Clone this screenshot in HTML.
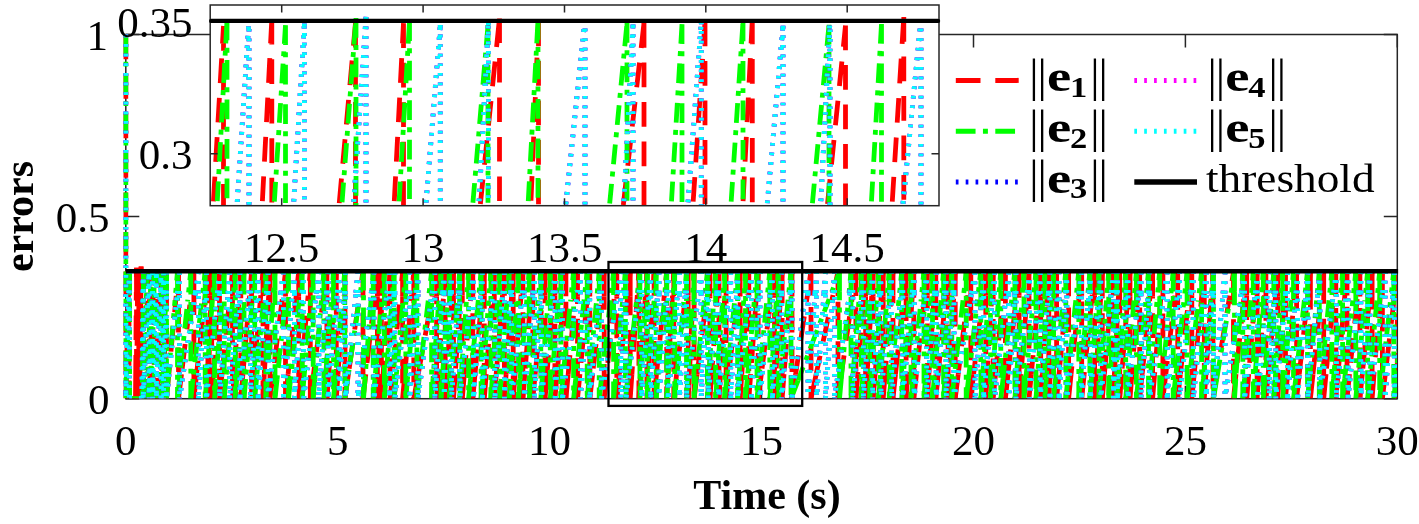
<!DOCTYPE html>
<html lang="en">
<head>
<meta charset="utf-8">
<title>errors vs. Time (s)</title>
<style>
html,body{margin:0;padding:0;background:#fff;}
body{width:1419px;height:524px;overflow:hidden;font-family:"Liberation Serif", serif;}
svg{display:block;}
</style>
</head>
<body>
<svg width="1419" height="524" viewBox="0 0 1419 524">
<defs>
<clipPath id="cm"><rect x="123.2" y="30" width="1273.8" height="368.3"/></clipPath>
<clipPath id="ci"><rect x="210.2" y="5.0" width="728.8" height="200.7"/></clipPath>
</defs>
<rect width="1419" height="524" fill="#fff"/>
<rect x="125.8" y="34.5" width="1271.5" height="364.2" stroke="#262626" stroke-width="1.5" fill="none"/>
<path d="M125.8 398.7 v-13M125.8 34.5 v13M337.7 398.7 v-13M337.7 34.5 v13M549.6 398.7 v-13M549.6 34.5 v13M761.5 398.7 v-13M761.5 34.5 v13M973.5 398.7 v-13M973.5 34.5 v13M1185.4 398.7 v-13M1185.4 34.5 v13M1397.3 398.7 v-13M1397.3 34.5 v13M125.8 398.7 h13.5M1397.3 398.7 h-13.5M125.8 216.6 h13.5M1397.3 216.6 h-13.5M125.8 34.5 h13.5M1397.3 34.5 h-13.5" stroke="#262626" stroke-width="1.5" fill="none"/>
<g clip-path="url(#cm)" fill="none" stroke-width="4.8">
<g stroke="#ff0000" stroke-dasharray="24.7 14.8"><path d="M125.8 34.5L125.8 398.7M125.8 398.7L126.4 374.0M129.0 271.2L129.0 295.9M129.0 398.7L135.5 398.7M135.5 398.7L135.7 374.0M136.5 267.8L136.5 292.5M136.5 398.7L136.6 398.7M136.6 398.7L136.8 374.0M137.7 268.6L137.7 293.3M137.7 398.7L137.8 398.7M137.8 398.7L138.0 374.0M138.8 268.7L138.8 293.4M138.8 398.7L138.9 398.7M138.9 398.7L139.1 374.0M140.0 268.4L140.0 293.1M140.0 398.7L140.1 398.7M140.1 398.7L140.3 374.0M164.7 398.7L165.0 374.0M166.5 270.7L166.5 295.4M166.5 398.7L168.8 374.1M178.5 271.9L178.5 296.6M178.5 398.7L181.5 374.2M193.9 271.3L193.9 296.0M193.9 398.7L196.6 374.1M207.9 270.7L207.9 295.4M207.9 398.7L208.6 374.0M211.7 271.1L211.7 295.8M211.7 398.7L213.2 374.0M219.5 270.8L219.5 295.5M219.5 398.7L222.0 374.1M232.5 271.8L232.5 296.5M232.5 398.7L234.1 374.1M240.8 271.3L240.8 296.0M240.8 398.7L242.9 374.1M251.6 271.6L251.6 296.3M251.6 398.7L253.8 374.1M263.0 271.2L263.0 295.9M263.0 398.7L264.3 374.0M270.0 271.2L270.0 295.9M270.0 398.7L273.0 374.2M285.5 271.9L285.5 296.6M285.5 398.7L288.1 374.1M298.7 271.6L298.7 296.3M298.7 398.7L301.0 374.1M310.3 271.6L310.3 296.3M310.3 398.7L313.5 374.2M326.9 270.8L326.9 295.5M326.9 398.7L328.7 374.1M336.3 270.9L336.3 295.6M336.3 398.7L338.0 374.1M345.0 271.7L345.0 296.4M345.0 398.7L348.4 374.2M363.0 270.9L363.0 295.6M363.0 398.7L365.8 374.2M377.4 271.7L377.4 296.4M377.4 398.7L378.2 374.0M381.4 271.1L381.4 295.8M381.4 398.7L383.1 374.1M390.0 271.8L390.0 296.5M390.0 398.7L392.5 374.1M402.6 271.9L402.6 296.6M402.6 398.7L404.8 374.1M413.8 270.8L413.8 295.5M413.8 398.7L418.2 374.4M436.6 271.7L436.6 296.4M436.6 398.7L438.3 374.1M445.2 271.6L445.2 296.3M445.2 398.7L446.8 374.1M453.5 270.7L453.5 295.4M453.5 398.7L455.2 374.1M462.3 270.8L462.3 295.5M462.3 398.7L464.3 374.1M472.8 271.6L472.8 296.3M472.8 398.7L475.0 374.1M484.3 270.7L484.3 295.4M484.3 398.7L486.2 374.1M494.3 271.2L494.3 295.9M494.3 398.7L496.2 374.1M504.4 271.1L504.4 295.8M504.4 398.7L506.1 374.1M513.2 271.7L513.2 296.4M513.2 398.7L515.1 374.1M522.9 270.7L522.9 295.4M522.9 398.7L524.8 374.1M532.8 271.0L532.8 295.7M532.8 398.7L535.2 374.1M545.1 270.7L545.1 295.4M545.1 398.7L547.0 374.1M554.9 270.8L554.9 295.5M554.9 398.7L557.1 374.1M565.9 271.5L565.9 296.2M565.9 398.7L568.2 374.1M577.5 271.5L577.5 296.2M577.5 398.7L579.9 374.1M589.8 271.7L589.8 296.4M589.8 398.7L592.6 374.2M604.2 271.7L604.2 296.4M604.2 398.7L606.7 374.1M616.8 271.8L616.8 296.5M616.8 398.7L619.4 374.1M630.2 271.5L630.2 296.2M630.2 398.7L631.9 374.1M638.9 271.2L638.9 295.9M638.9 398.7L640.5 374.0M646.9 271.9L646.9 296.6M646.9 398.7L648.3 374.0M654.1 271.1L654.1 295.8M654.1 398.7L656.5 374.1M666.7 271.5L666.7 296.2M666.7 398.7L668.0 374.0M673.8 271.5L673.8 296.2M673.8 398.7L676.6 374.2M688.2 270.9L688.2 295.6M688.2 398.7L689.4 374.0M694.1 271.3L694.1 296.0M694.1 398.7L697.1 374.2M709.9 271.5L709.9 296.2M709.9 398.7L711.7 374.1M719.0 271.3L719.0 296.0M719.0 398.7L720.4 374.0M726.1 271.0L726.1 295.7M726.1 398.7L728.8 374.1M740.1 271.8L740.1 296.5M740.1 398.7L741.8 374.1M748.8 270.7L748.8 295.4M748.8 398.7L750.7 374.1M758.2 271.9L758.2 296.6M758.2 398.7L761.3 374.2M774.5 271.0L774.5 295.7M774.5 398.7L775.9 374.0M782.1 270.8L782.1 295.5M782.1 398.7L784.0 374.1M792.0 271.9L792.0 296.6M792.0 398.7L795.6 374.3M811.0 270.9L811.0 295.6M811.0 398.7L816.1 374.5M838.0 271.5L838.0 296.2M838.0 398.7L841.4 374.2M855.9 271.2L855.9 295.9M855.9 398.7L857.8 374.1M865.6 271.9L865.6 296.6M865.6 398.7L867.1 374.0M873.1 271.9L873.1 296.6M873.1 398.7L875.1 374.1M883.2 271.7L883.2 296.4M883.2 398.7L885.1 374.1M893.0 270.7L893.0 295.4M893.0 398.7L895.5 374.1M906.1 271.7L906.1 296.4M906.1 398.7L907.6 374.0M913.8 271.0L913.8 295.7M913.8 398.7L916.4 374.1M927.3 270.7L927.3 295.4M927.3 398.7L928.9 374.1M935.8 270.7L935.8 295.4M935.8 398.7L938.2 374.1M948.1 271.5L948.1 296.2M948.1 398.7L949.5 374.0M955.2 271.5L955.2 296.2M955.2 398.7L958.2 374.2M970.8 271.3L970.8 296.0M970.8 398.7L973.6 374.2M985.8 270.9L985.8 295.6M985.8 398.7L987.2 374.0M993.2 271.8L993.2 296.5M993.2 398.7L995.5 374.1M1005.4 271.0L1005.4 295.7M1005.4 398.7L1008.0 374.1M1019.1 270.9L1019.1 295.6M1019.1 398.7L1021.0 374.1M1029.0 270.8L1029.0 295.5M1029.0 398.7L1031.3 374.1M1040.7 271.9L1040.7 296.6M1040.7 398.7L1042.2 374.0M1048.8 270.7L1048.8 295.4M1048.8 398.7L1050.3 374.0M1056.6 271.8L1056.6 296.5M1056.6 398.7L1059.0 374.1M1068.6 271.5L1068.6 296.2M1068.6 398.7L1071.1 374.1M1081.7 271.1L1081.7 295.8M1081.7 398.7L1084.2 374.1M1094.6 270.8L1094.6 295.5M1094.6 398.7L1096.1 374.0M1102.3 271.5L1102.3 296.2M1102.3 398.7L1104.4 374.1M1113.2 270.7L1113.2 295.4M1113.2 398.7L1114.4 374.0M1119.7 271.2L1119.7 295.9M1119.7 398.7L1121.7 374.1M1130.0 271.5L1130.0 296.2M1130.0 398.7L1131.9 374.1M1139.7 271.5L1139.7 296.2M1139.7 398.7L1142.2 374.1M1152.6 271.7L1152.6 296.4M1152.6 398.7L1154.6 374.1M1162.9 271.8L1162.9 296.5M1162.9 398.7L1165.8 374.2M1177.7 271.7L1177.7 296.4M1177.7 398.7L1180.4 374.1M1191.8 271.0L1191.8 295.7M1191.8 398.7L1194.2 374.1M1204.3 270.7L1204.3 295.4M1204.3 398.7L1205.9 374.1M1213.0 271.7L1213.0 296.4M1213.0 398.7L1216.9 374.3M1233.5 271.9L1233.5 296.6M1233.5 398.7L1236.0 374.1M1246.7 270.7L1246.7 295.4M1246.7 398.7L1248.7 374.1M1257.1 271.2L1257.1 295.9M1257.1 398.7L1258.8 374.1M1265.9 271.4L1265.9 296.1M1265.9 398.7L1268.2 374.1M1277.7 271.6L1277.7 296.3M1277.7 398.7L1279.2 374.0M1285.5 271.2L1285.5 295.9M1285.5 398.7L1287.6 374.1M1296.6 270.9L1296.6 295.6M1296.6 398.7L1299.3 374.1M1310.4 271.3L1310.4 296.0M1310.4 398.7L1313.0 374.1M1323.7 271.4L1323.7 296.1M1323.7 398.7L1326.0 374.1M1335.8 271.9L1335.8 296.6M1335.8 398.7L1338.0 374.1M1347.0 270.8L1347.0 295.5M1347.0 398.7L1349.5 374.1M1359.9 271.9L1359.9 296.6M1359.9 398.7L1362.3 374.1M1372.1 271.3L1372.1 296.0M1372.1 398.7L1374.0 374.1M1382.4 270.9L1382.4 295.6M1382.4 398.7L1385.3 374.2M1397.3 271.8L1397.3 296.5M1397.3 398.7L1399.8 374.1M1410.1 271.0L1410.1 295.7M1410.1 398.7L1411.5 374.0M1417.1 270.7L1417.1 295.4M1417.1 398.7L1419.1 374.1M1427.5 271.1L1427.5 295.8"/><path d="M129.0 271.2L128.4 295.3M136.5 267.8L136.3 291.9M137.7 268.6L137.5 292.7M138.8 268.7L138.6 292.8M140.0 268.4L139.8 292.5M141.1 266.4L140.9 290.5M166.5 270.7L166.2 294.8M178.5 271.9L176.2 295.9M193.9 271.3L191.0 295.3M207.9 270.7L205.3 294.7M211.7 271.1L211.0 295.2M219.5 270.8L218.1 294.8M232.5 271.8L230.0 295.8M240.8 271.3L239.2 295.4M251.6 271.6L249.6 295.6M263.0 271.2L260.8 295.2M270.0 271.2L268.7 295.3M285.5 271.9L282.6 295.8M298.7 271.6L296.2 295.6M310.3 271.6L308.1 295.6M326.9 270.8L323.8 294.7M336.3 270.9L334.6 295.0M345.0 271.7L343.4 295.8M363.0 270.9L359.6 294.8M377.4 271.7L374.7 295.7M381.4 271.1L380.7 295.2M390.0 271.8L388.4 295.8M402.6 271.9L400.2 295.9M413.8 270.8L411.7 294.8M436.6 271.7L432.4 295.4M445.2 271.6L443.6 295.7M453.5 270.7L452.0 294.7M462.3 270.8L460.6 294.9M472.8 271.6L470.8 295.6M484.3 270.7L482.1 294.7M494.3 271.2L492.4 295.3M504.4 271.1L502.5 295.1M513.2 271.7L511.6 295.7M522.9 270.7L521.1 294.8M532.8 271.0L531.0 295.1M545.1 270.7L542.8 294.7M554.9 270.8L553.1 294.8M565.9 271.5L563.8 295.6M577.5 271.5L575.3 295.5M589.8 271.7L587.5 295.7M604.2 271.7L601.5 295.7M616.8 271.8L614.4 295.8M630.2 271.5L627.7 295.5M638.9 271.2L637.3 295.2M646.9 271.9L645.4 296.0M654.1 271.1L652.7 295.1M666.7 271.5L664.3 295.5M673.8 271.5L672.5 295.6M688.2 270.9L685.5 294.8M694.1 271.3L693.0 295.4M709.9 271.5L706.9 295.4M719.0 271.3L717.3 295.3M726.1 271.0L724.8 295.1M740.1 271.8L737.5 295.8M748.8 270.7L747.2 294.7M758.2 271.9L756.4 295.9M774.5 271.0L771.4 294.9M782.1 270.8L780.6 294.9M792.0 271.9L790.1 295.9M811.0 270.9L807.5 294.8M838.0 271.5L833.0 295.0M855.9 271.2L852.6 295.0M865.6 271.9L863.8 295.9M873.1 271.9L871.7 295.9M883.2 271.7L881.3 295.7M893.0 270.7L891.2 294.7M906.1 271.7L903.6 295.6M913.8 271.0L912.3 295.0M927.3 270.7L924.8 294.7M935.8 270.7L934.2 294.8M948.1 271.5L945.8 295.5M955.2 271.5L953.8 295.5M970.8 271.3L967.8 295.2M985.8 270.9L983.0 294.9M993.2 271.8L991.8 295.8M1005.4 271.0L1003.1 295.0M1019.1 270.9L1016.5 294.9M1029.0 270.8L1027.2 294.9M1040.7 271.9L1038.5 295.9M1048.8 270.7L1047.3 294.8M1056.6 271.8L1055.2 295.9M1068.6 271.5L1066.4 295.5M1081.7 271.1L1079.3 295.1M1094.6 270.8L1092.2 294.7M1102.3 271.5L1100.8 295.5M1113.2 270.7L1111.1 294.8M1119.7 271.2L1118.5 295.3M1130.0 271.5L1128.0 295.5M1139.7 271.5L1137.8 295.5M1152.6 271.7L1150.1 295.7M1162.9 271.8L1161.0 295.8M1177.7 271.7L1174.9 295.7M1191.8 271.0L1189.1 295.0M1204.3 270.7L1201.9 294.6M1213.0 271.7L1211.3 295.8M1233.5 271.9L1229.7 295.7M1246.7 270.7L1244.2 294.6M1257.1 271.2L1255.1 295.3M1265.9 271.4L1264.3 295.4M1277.7 271.6L1275.5 295.6M1285.5 271.2L1284.0 295.2M1296.6 270.9L1294.5 294.9M1310.4 271.3L1307.8 295.3M1323.7 271.4L1321.2 295.4M1335.8 271.9L1333.5 295.8M1347.0 270.8L1344.9 294.8M1359.9 271.9L1357.5 295.9M1372.1 271.3L1369.8 295.3M1382.4 270.9L1380.4 294.9M1397.3 271.8L1394.5 295.7M1410.1 271.0L1407.7 295.0M1417.1 270.7L1415.8 294.8M1427.5 271.1L1425.6 295.1" stroke-dashoffset="15.40"/><path d="M138.0 374.0L138.6 292.8M141.1 266.4L141.1 398.7M149.3 398.7L153.1 271.0M208.6 374.0L211.0 295.2M222.0 374.1L230.0 295.8M310.3 296.3L310.3 398.7M338.0 374.1L343.4 295.8M418.2 374.4L432.4 295.4M453.5 295.4L453.5 398.7M475.0 374.1L482.1 294.7M494.3 295.9L494.3 398.7M513.2 296.4L513.2 398.7M535.2 374.1L542.8 294.7M557.1 374.1L563.8 295.6M688.2 295.6L688.2 398.7M689.4 374.0L693.0 295.4M694.1 296.0L694.1 398.7M697.1 374.2L706.9 295.4M741.8 374.1L747.2 294.7M873.1 296.6L873.1 398.7M895.5 374.1L903.6 295.6M906.1 296.4L906.1 398.7M935.8 295.4L935.8 398.7M970.8 296.0L970.8 398.7M1008.0 374.1L1016.5 294.9M1040.7 296.6L1040.7 398.7M1056.6 296.5L1056.6 398.7M1059.0 374.1L1066.4 295.5M1104.4 374.1L1111.1 294.8M1180.4 374.1L1189.1 295.0M1246.7 295.4L1246.7 398.7M1265.9 296.1L1265.9 398.7M1285.5 295.9L1285.5 398.7M1299.3 374.1L1307.8 295.3M1313.0 374.1L1321.2 295.4" stroke-dashoffset="0.00"/><path d="M135.7 374.0L136.3 291.9M140.0 293.1L140.0 398.7M141.1 398.7L149.3 271.1M153.1 398.7L156.9 270.9M156.9 398.7L160.8 270.7M160.8 270.7L160.8 398.7M164.7 271.0L164.7 398.7M165.0 374.0L166.2 294.8M193.9 296.0L193.9 398.7M213.2 374.0L218.1 294.8M219.5 295.5L219.5 398.7M251.6 296.3L251.6 398.7M270.0 295.9L270.0 398.7M301.0 374.1L308.1 295.6M336.3 295.6L336.3 398.7M404.8 374.1L411.7 294.8M464.3 374.1L470.8 295.6M532.8 295.7L532.8 398.7M547.0 374.1L553.1 294.8M568.2 374.1L575.3 295.5M630.2 296.2L630.2 398.7M656.5 374.1L664.3 295.5M795.6 374.3L807.5 294.8M816.1 374.5L833.0 295.0M841.4 374.2L852.6 295.0M867.1 374.0L871.7 295.9M875.1 374.1L881.3 295.7M938.2 374.1L945.8 295.5M985.8 295.6L985.8 398.7M995.5 374.1L1003.1 295.0M1031.3 374.1L1038.5 295.9M1050.3 374.0L1055.2 295.9M1119.7 295.9L1119.7 398.7M1142.2 374.1L1150.1 295.7M1191.8 295.7L1191.8 398.7M1257.1 295.9L1257.1 398.7M1268.2 374.1L1275.5 295.6M1277.7 296.3L1277.7 398.7M1287.6 374.1L1294.5 294.9M1338.0 374.1L1344.9 294.8M1399.8 374.1L1407.7 295.0M1410.1 295.7L1410.1 398.7" stroke-dashoffset="5.64"/><path d="M136.8 374.0L137.5 292.7M149.3 271.1L149.3 398.7M156.9 270.9L156.9 398.7M160.8 398.7L164.7 271.0M166.5 295.4L166.5 398.7M196.6 374.1L205.3 294.7M211.7 295.8L211.7 398.7M242.9 374.1L249.6 295.6M264.3 374.0L268.7 295.3M328.7 374.1L334.6 295.0M377.4 296.4L377.4 398.7M383.1 374.1L388.4 295.8M484.3 295.4L484.3 398.7M496.2 374.1L502.5 295.1M506.1 374.1L511.6 295.7M515.1 374.1L521.1 294.8M554.9 295.5L554.9 398.7M604.2 296.4L604.2 398.7M646.9 296.6L646.9 398.7M711.7 374.1L717.3 295.3M883.2 296.4L883.2 398.7M885.1 374.1L891.2 294.7M927.3 295.4L927.3 398.7M948.1 296.2L948.1 398.7M958.2 374.2L967.8 295.2M973.6 374.2L983.0 294.9M987.2 374.0L991.8 295.8M1029.0 295.5L1029.0 398.7M1042.2 374.0L1047.3 294.8M1114.4 374.0L1118.5 295.3M1130.0 296.2L1130.0 398.7M1165.8 374.2L1174.9 295.7M1177.7 296.4L1177.7 398.7M1194.2 374.1L1201.9 294.6M1204.3 295.4L1204.3 398.7M1213.0 296.4L1213.0 398.7M1296.6 295.6L1296.6 398.7M1310.4 296.0L1310.4 398.7M1372.1 296.0L1372.1 398.7M1427.5 295.8L1427.5 398.7" stroke-dashoffset="11.29"/><path d="M137.7 293.3L137.7 398.7M153.1 271.0L153.1 398.7M168.8 374.1L176.2 295.9M207.9 295.4L207.9 398.7M232.5 296.5L232.5 398.7M253.8 374.1L260.8 295.2M288.1 374.1L296.2 295.6M298.7 296.3L298.7 398.7M313.5 374.2L323.8 294.7M326.9 295.5L326.9 398.7M390.0 296.5L390.0 398.7M402.6 296.6L402.6 398.7M413.8 295.5L413.8 398.7M436.6 296.4L436.6 398.7M446.8 374.1L452.0 294.7M462.3 295.5L462.3 398.7M545.1 295.4L545.1 398.7M577.5 296.2L577.5 398.7M619.4 374.1L627.7 295.5M631.9 374.1L637.3 295.2M726.1 295.7L726.1 398.7M782.1 295.5L782.1 398.7M865.6 296.6L865.6 398.7M893.0 295.4L893.0 398.7M928.9 374.1L934.2 294.8M993.2 296.5L993.2 398.7M1005.4 295.7L1005.4 398.7M1071.1 374.1L1079.3 295.1M1094.6 295.5L1094.6 398.7M1131.9 374.1L1137.8 295.5M1216.9 374.3L1229.7 295.7M1233.5 296.6L1233.5 398.7M1323.7 296.1L1323.7 398.7M1411.5 374.0L1415.8 294.8" stroke-dashoffset="16.93"/><path d="M126.4 374.0L128.4 295.3M136.5 292.5L136.5 398.7M139.1 374.0L139.8 292.5M140.3 374.0L140.9 290.5M240.8 296.0L240.8 398.7M363.0 295.6L363.0 398.7M472.8 296.3L472.8 398.7M522.9 295.4L522.9 398.7M616.8 296.5L616.8 398.7M640.5 374.0L645.4 296.0M668.0 374.0L672.5 295.6M709.9 296.2L709.9 398.7M719.0 296.0L719.0 398.7M758.2 296.6L758.2 398.7M774.5 295.7L774.5 398.7M857.8 374.1L863.8 295.9M907.6 374.0L912.3 295.0M913.8 295.7L913.8 398.7M1019.1 295.6L1019.1 398.7M1084.2 374.1L1092.2 294.7M1102.3 296.2L1102.3 398.7M1152.6 296.4L1152.6 398.7M1154.6 374.1L1161.0 295.8M1162.9 296.5L1162.9 398.7M1258.8 374.1L1264.3 295.4M1374.0 374.1L1380.4 294.9M1397.3 296.5L1397.3 398.7M1417.1 295.4L1417.1 398.7M1419.1 374.1L1425.6 295.1" stroke-dashoffset="22.57"/><path d="M138.8 293.4L138.8 398.7M178.5 296.6L178.5 398.7M273.0 374.2L282.6 295.8M345.0 296.4L345.0 398.7M365.8 374.2L374.7 295.7M378.2 374.0L380.7 295.2M438.3 374.1L443.6 295.7M445.2 296.3L445.2 398.7M504.4 295.8L504.4 398.7M579.9 374.1L587.5 295.7M589.8 296.4L589.8 398.7M606.7 374.1L614.4 295.8M666.7 296.2L666.7 398.7M673.8 296.2L673.8 398.7M720.4 374.0L724.8 295.1M748.8 295.4L748.8 398.7M750.7 374.1L756.4 295.9M792.0 296.6L792.0 398.7M811.0 295.6L811.0 398.7M855.9 295.9L855.9 398.7M916.4 374.1L924.8 294.7M949.5 374.0L953.8 295.5M1048.8 295.4L1048.8 398.7M1068.6 296.2L1068.6 398.7M1096.1 374.0L1100.8 295.5M1139.7 296.2L1139.7 398.7M1205.9 374.1L1211.3 295.8M1236.0 374.1L1244.2 294.6M1248.7 374.1L1255.1 295.3M1279.2 374.0L1284.0 295.2M1335.8 296.6L1335.8 398.7M1347.0 295.5L1347.0 398.7M1349.5 374.1L1357.5 295.9M1359.9 296.6L1359.9 398.7M1382.4 295.6L1382.4 398.7M1385.3 374.2L1394.5 295.7" stroke-dashoffset="28.21"/><path d="M129.0 295.9L129.0 398.7M181.5 374.2L191.0 295.3M234.1 374.1L239.2 295.4M263.0 295.9L263.0 398.7M285.5 296.6L285.5 398.7M348.4 374.2L359.6 294.8M381.4 295.8L381.4 398.7M392.5 374.1L400.2 295.9M455.2 374.1L460.6 294.9M486.2 374.1L492.4 295.3M524.8 374.1L531.0 295.1M565.9 296.2L565.9 398.7M592.6 374.2L601.5 295.7M638.9 295.9L638.9 398.7M648.3 374.0L652.7 295.1M654.1 295.8L654.1 398.7M676.6 374.2L685.5 294.8M728.8 374.1L737.5 295.8M740.1 296.5L740.1 398.7M761.3 374.2L771.4 294.9M775.9 374.0L780.6 294.9M784.0 374.1L790.1 295.9M838.0 296.2L838.0 398.7M955.2 296.2L955.2 398.7M1021.0 374.1L1027.2 294.9M1081.7 295.8L1081.7 398.7M1113.2 295.4L1113.2 398.7M1121.7 374.1L1128.0 295.5M1326.0 374.1L1333.5 295.8M1362.3 374.1L1369.8 295.3" stroke-dashoffset="33.86"/></g>
<g stroke="#00ff00" stroke-dasharray="19.75 7.4 4.95 7.4"><path d="M125.8 34.5L125.8 398.7M125.8 398.7L126.4 379.0M129.6 271.2L129.6 291.0M129.6 398.7L142.2 398.7M162.4 398.7L163.1 379.0M166.5 271.1L166.5 290.8M166.5 398.7L168.2 379.0M177.5 271.3L177.5 291.1M177.5 398.7L179.5 379.1M190.8 271.0L190.8 290.7M190.8 398.7L193.0 379.1M205.2 271.4L205.2 291.2M205.2 398.7L206.6 379.0M214.5 270.9L214.5 290.7M214.5 398.7L216.0 379.0M224.2 271.6L224.2 291.3M224.2 398.7L225.9 379.0M235.4 270.9L235.4 290.6M235.4 398.7L236.7 379.0M244.0 271.0L244.0 290.7M244.0 398.7L245.7 379.0M254.7 271.4L254.7 291.1M254.7 398.7L256.5 379.0M265.9 271.2L265.9 291.0M265.9 398.7L267.3 379.0M275.0 271.1L275.0 290.8M275.0 398.7L277.1 379.1M288.5 271.7L288.5 291.4M288.5 398.7L290.6 379.1M302.2 271.2L302.2 291.0M302.2 398.7L303.9 379.0M313.2 270.9L313.2 290.6M313.2 398.7L314.8 379.0M323.9 271.6L323.9 291.3M323.9 398.7L325.4 379.0M333.5 270.9L333.5 290.6M333.5 398.7L335.3 379.0M344.8 271.0L344.8 290.8M344.8 398.7L347.7 379.2M363.5 270.8L363.5 290.6M363.5 398.7L365.0 379.0M373.2 271.5L373.2 291.2M373.2 398.7L374.9 379.0M384.4 271.8L384.4 291.6M384.4 398.7L385.9 379.0M394.2 270.9L394.2 290.7M394.2 398.7L396.0 379.0M405.8 270.9L405.8 290.6M405.8 398.7L407.5 379.0M416.9 271.4L416.9 291.1M416.9 398.7L419.1 379.1M431.6 271.8L431.6 291.6M431.6 398.7L433.0 379.0M441.0 271.7L441.0 291.4M441.0 398.7L442.3 379.0M449.5 271.1L449.5 290.9M449.5 398.7L451.1 379.0M459.6 271.6L459.6 291.3M459.6 398.7L461.0 379.0M468.6 270.7L468.6 290.5M468.6 398.7L470.5 379.0M481.1 271.2L481.1 290.9M481.1 398.7L482.7 379.0M490.9 271.7L490.9 291.4M490.9 398.7L492.2 379.0M499.6 271.1L499.6 290.8M499.6 398.7L501.1 379.0M509.1 271.5L509.1 291.2M509.1 398.7L510.6 379.0M518.5 270.7L518.5 290.5M518.5 398.7L520.1 379.0M529.2 270.8L529.2 290.5M529.2 398.7L531.0 379.0M540.8 271.3L540.8 291.0M540.8 398.7L542.2 379.0M550.3 271.1L550.3 290.9M550.3 398.7L551.9 379.0M560.8 271.0L560.8 290.8M560.8 398.7L562.8 379.0M573.6 270.9L573.6 290.6M573.6 398.7L575.7 379.1M587.2 270.7L587.2 290.4M587.2 398.7L589.0 379.0M599.2 271.9L599.2 291.6M599.2 398.7L601.4 379.1M613.6 271.5L613.6 291.2M613.6 398.7L615.5 379.0M625.4 271.2L625.4 290.9M625.4 398.7L627.7 379.1M639.9 271.5L639.9 291.3M639.9 398.7L641.1 379.0M647.4 271.2L647.4 290.9M647.4 398.7L648.8 379.0M656.2 271.8L656.2 291.6M656.2 398.7L657.8 379.0M666.7 270.8L666.7 290.6M666.7 398.7L668.0 379.0M674.7 271.3L674.7 291.0M674.7 398.7L676.6 379.0M686.5 271.8L686.5 291.5M686.5 398.7L687.7 379.0M694.0 271.1L694.0 290.8M694.0 398.7L696.1 379.1M707.4 271.5L707.4 291.3M707.4 398.7L708.6 379.0M715.6 271.7L715.6 291.4M715.6 398.7L717.0 379.0M724.7 271.3L724.7 291.1M724.7 398.7L726.7 379.1M737.6 271.7L737.6 291.5M737.6 398.7L738.9 379.0M745.5 271.7L745.5 291.4M745.5 398.7L747.3 379.0M757.0 270.8L757.0 290.6M757.0 398.7L758.9 379.0M769.8 271.0L769.8 290.8M769.8 398.7L771.2 379.0M778.3 271.9L778.3 291.7M778.3 398.7L780.2 379.0M791.0 270.9L791.0 290.7M791.0 398.7L798.1 380.3M839.5 271.9L839.5 291.7M839.5 398.7L841.3 379.0M851.0 271.5L851.0 291.2M851.0 398.7L852.6 379.0M861.3 270.8L861.3 290.5M861.3 398.7L862.6 379.0M869.7 271.1L869.7 290.9M869.7 398.7L871.1 379.0M878.6 271.5L878.6 291.3M878.6 398.7L880.2 379.0M889.2 271.4L889.2 291.2M889.2 398.7L891.1 379.0M901.7 271.4L901.7 291.2M901.7 398.7L903.1 379.0M911.0 271.8L911.0 291.5M911.0 398.7L913.0 379.1M924.0 270.6L924.0 290.4M924.0 398.7L925.3 379.0M932.5 271.9L932.5 291.6M932.5 398.7L934.2 379.0M943.6 271.4L943.6 291.1M943.6 398.7L944.8 379.0M951.8 271.0L951.8 290.7M951.8 398.7L954.0 379.1M966.2 271.4L966.2 291.2M966.2 398.7L968.5 379.1M980.8 270.7L980.8 290.4M980.8 398.7L982.3 379.0M990.5 271.6L990.5 291.4M990.5 398.7L992.1 379.0M1000.8 270.7L1000.8 290.4M1000.8 398.7L1003.0 379.1M1014.9 270.8L1014.9 290.5M1014.9 398.7L1016.3 379.0M1024.0 271.1L1024.0 290.8M1024.0 398.7L1025.8 379.0M1036.0 270.8L1036.0 290.5M1036.0 398.7L1037.4 379.0M1044.8 271.4L1044.8 291.1M1044.8 398.7L1046.2 379.0M1053.6 270.9L1053.6 290.6M1053.6 398.7L1055.5 379.0M1065.8 270.9L1065.8 290.7M1065.8 398.7L1067.8 379.1M1078.8 271.3L1078.8 291.0M1078.8 398.7L1080.5 379.0M1089.9 271.3L1089.9 291.1M1089.9 398.7L1091.3 379.0M1099.0 271.0L1099.0 290.8M1099.0 398.7L1100.5 379.0M1108.7 271.4L1108.7 291.2M1108.7 398.7L1110.0 379.0M1116.8 271.8L1116.8 291.6M1116.8 398.7L1118.2 379.0M1125.7 271.0L1125.7 290.7M1125.7 398.7L1127.4 379.0M1136.4 271.6L1136.4 291.3M1136.4 398.7L1138.3 379.0M1148.5 271.3L1148.5 291.1M1148.5 398.7L1150.2 379.0M1159.7 270.9L1159.7 290.7M1159.7 398.7L1161.8 379.1M1173.2 271.7L1173.2 291.5M1173.2 398.7L1175.4 379.1M1187.1 271.9L1187.1 291.6M1187.1 398.7L1189.3 379.1M1201.6 271.8L1201.6 291.5M1201.6 398.7L1203.4 379.0M1213.5 271.2L1213.5 290.9M1213.5 398.7L1216.7 379.2M1234.5 271.5L1234.5 291.2M1234.5 398.7L1235.8 379.0M1242.8 271.6L1242.8 291.3M1242.8 398.7L1244.5 379.0M1253.3 271.3L1253.3 291.1M1253.3 398.7L1254.8 379.0M1263.3 270.7L1263.3 290.5M1263.3 398.7L1264.9 379.0M1273.8 271.6L1273.8 291.3M1273.8 398.7L1275.2 379.0M1282.7 271.4L1282.7 291.1M1282.7 398.7L1284.3 379.0M1293.5 270.8L1293.5 290.6M1293.5 398.7L1295.7 379.1M1307.5 271.1L1307.5 290.9M1307.5 398.7L1309.4 379.0M1319.3 271.6L1319.3 291.3M1319.3 398.7L1321.2 379.0M1331.9 271.3L1331.9 291.1M1331.9 398.7L1333.5 379.0M1342.6 271.3L1342.6 291.1M1342.6 398.7L1344.7 379.1M1355.8 271.7L1355.8 291.5M1355.8 398.7L1357.6 379.0M1367.6 271.4L1367.6 291.2M1367.6 398.7L1369.5 379.0M1379.7 271.5L1379.7 291.3M1379.7 398.7L1381.8 379.1M1393.8 270.9L1393.8 290.6M1393.8 398.7L1395.8 379.0M1406.7 271.5L1406.7 291.3M1406.7 398.7L1407.9 379.0M1414.4 271.1L1414.4 290.8M1414.4 398.7L1415.9 379.0M1423.9 270.7L1423.9 290.4"/><path d="M129.6 271.2L128.7 300.3M166.5 271.1L165.6 300.1M177.5 271.3L175.0 300.3M190.8 271.0L187.8 299.8M205.2 271.4L201.9 300.3M214.5 270.9L212.4 299.9M224.2 271.6L222.0 300.5M235.4 270.9L232.8 299.8M244.0 271.0L242.1 300.0M254.7 271.4L252.3 300.3M265.9 271.2L263.4 300.2M275.0 271.1L273.0 300.0M288.5 271.7L285.5 300.6M302.2 271.2L299.1 300.1M313.2 270.9L310.7 299.8M323.9 271.6L321.4 300.5M333.5 270.9L331.3 299.9M344.8 271.0L342.2 300.0M363.5 270.8L359.3 299.6M373.2 271.5L371.0 300.5M384.4 271.8L381.8 300.7M394.2 270.9L392.0 299.9M405.8 270.9L403.2 299.8M416.9 271.4L414.4 300.3M431.6 271.8L428.2 300.7M441.0 271.7L438.8 300.6M449.5 271.1L447.6 300.1M459.6 271.6L457.3 300.5M468.6 270.7L466.5 299.7M481.1 271.2L478.3 300.1M490.9 271.7L488.7 300.6M499.6 271.1L497.6 300.1M509.1 271.5L507.0 300.4M518.5 270.7L516.4 299.7M529.2 270.8L526.8 299.7M540.8 271.3L538.1 300.2M550.3 271.1L548.1 300.1M560.8 271.0L558.4 300.0M573.6 270.9L570.7 299.8M587.2 270.7L584.1 299.6M599.2 271.9L596.5 300.8M613.6 271.5L610.4 300.3M625.4 271.2L622.7 300.1M639.9 271.5L636.6 300.4M647.4 271.2L645.7 300.2M656.2 271.8L654.2 300.8M666.7 270.8L664.3 299.8M674.7 271.3L672.9 300.2M686.5 271.8L683.8 300.7M694.0 271.1L692.3 300.1M707.4 271.5L704.3 300.4M715.6 271.7L713.7 300.7M724.7 271.3L722.7 300.3M737.6 271.7L734.7 300.6M745.5 271.7L743.7 300.6M757.0 270.8L754.4 299.8M769.8 271.0L766.9 299.9M778.3 271.9L776.3 300.9M791.0 270.9L788.1 299.8M839.5 271.9L829.1 299.0M851.0 271.5L848.4 300.4M861.3 270.8L859.0 299.7M869.7 271.1L867.8 300.1M878.6 271.5L876.6 300.5M889.2 271.4L886.8 300.4M901.7 271.4L898.9 300.3M911.0 271.8L908.9 300.7M924.0 270.6L921.1 299.5M932.5 271.9L930.5 300.8M943.6 271.4L941.0 300.3M951.8 271.0L949.9 300.0M966.2 271.4L963.0 300.3M980.8 270.7L977.5 299.5M990.5 271.6L988.3 300.6M1000.8 270.7L998.5 299.6M1014.9 270.8L1011.7 299.7M1024.0 271.1L1021.9 300.0M1036.0 270.8L1033.3 299.7M1044.8 271.4L1042.8 300.3M1053.6 270.9L1051.6 299.8M1065.8 270.9L1063.1 299.8M1078.8 271.3L1075.8 300.2M1089.9 271.3L1087.3 300.3M1099.0 271.0L1097.0 300.0M1108.7 271.4L1106.5 300.4M1116.8 271.8L1115.0 300.8M1125.7 271.0L1123.7 299.9M1136.4 271.6L1134.0 300.5M1148.5 271.3L1145.8 300.2M1159.7 270.9L1157.1 299.9M1173.2 271.7L1170.2 300.6M1187.1 271.9L1183.9 300.8M1201.6 271.8L1198.3 300.6M1213.5 271.2L1210.8 300.1M1234.5 271.5L1229.8 300.1M1242.8 271.6L1240.9 300.6M1253.3 271.3L1250.9 300.3M1263.3 270.7L1261.0 299.7M1273.8 271.6L1271.4 300.5M1282.7 271.4L1280.7 300.4M1293.5 270.8L1291.1 299.7M1307.5 271.1L1304.4 300.0M1319.3 271.6L1316.6 300.5M1331.9 271.3L1329.0 300.2M1342.6 271.3L1340.2 300.3M1355.8 271.7L1352.8 300.6M1367.6 271.4L1364.9 300.4M1379.7 271.5L1376.9 300.5M1393.8 270.9L1390.6 299.8M1406.7 271.5L1403.8 300.4M1414.4 271.1L1412.7 300.1M1423.9 270.7L1421.8 299.7" stroke-dashoffset="10.45"/><path d="M143.6 271.2L143.6 398.7M147.1 398.7L151.1 270.9M151.1 398.7L154.5 271.3M162.4 271.9L162.4 398.7M236.7 379.0L242.1 300.0M323.9 291.3L323.9 398.7M333.5 290.6L333.5 398.7M442.3 379.0L447.6 300.1M459.6 291.3L459.6 398.7M550.3 290.9L550.3 398.7M769.8 290.8L769.8 398.7M778.3 291.7L778.3 398.7M841.3 379.0L848.4 300.4M980.8 290.4L980.8 398.7M982.3 379.0L988.3 300.6M1014.9 290.5L1014.9 398.7M1016.3 379.0L1021.9 300.0M1036.0 290.5L1036.0 398.7M1125.7 290.7L1125.7 398.7M1216.7 379.2L1229.8 300.1M1282.7 291.1L1282.7 398.7M1355.8 291.5L1355.8 398.7M1367.6 291.2L1367.6 398.7M1379.7 291.3L1379.7 398.7" stroke-dashoffset="0.00"/><path d="M126.4 379.0L128.7 300.3M143.6 398.7L147.1 270.9M147.1 270.9L147.1 398.7M154.5 271.3L154.5 398.7M154.5 398.7L158.9 271.6M158.9 271.6L158.9 398.7M158.9 398.7L162.4 271.9M168.2 379.0L175.0 300.3M205.2 291.2L205.2 398.7M275.0 290.8L275.0 398.7M303.9 379.0L310.7 299.8M314.8 379.0L321.4 300.5M344.8 290.8L344.8 398.7M384.4 291.6L384.4 398.7M405.8 290.6L405.8 398.7M449.5 290.9L449.5 398.7M482.7 379.0L488.7 300.6M520.1 379.0L526.8 299.7M531.0 379.0L538.1 300.2M542.2 379.0L548.1 300.1M560.8 290.8L560.8 398.7M587.2 290.4L587.2 398.7M694.0 290.8L694.0 398.7M707.4 291.3L707.4 398.7M715.6 291.4L715.6 398.7M738.9 379.0L743.7 300.6M798.1 380.3L829.1 299.0M889.2 291.2L889.2 398.7M891.1 379.0L898.9 300.3M911.0 291.5L911.0 398.7M924.0 290.4L924.0 398.7M925.3 379.0L930.5 300.8M943.6 291.1L943.6 398.7M944.8 379.0L949.9 300.0M968.5 379.1L977.5 299.5M990.5 291.4L990.5 398.7M1003.0 379.1L1011.7 299.7M1025.8 379.0L1033.3 299.7M1080.5 379.0L1087.3 300.3M1091.3 379.0L1097.0 300.0M1118.2 379.0L1123.7 299.9M1136.4 291.3L1136.4 398.7M1187.1 291.6L1187.1 398.7M1203.4 379.0L1210.8 300.1M1234.5 291.2L1234.5 398.7M1275.2 379.0L1280.7 300.4M1307.5 290.9L1307.5 398.7M1309.4 379.0L1316.6 300.5M1333.5 379.0L1340.2 300.3M1344.7 379.1L1352.8 300.6M1393.8 290.6L1393.8 398.7M1414.4 290.8L1414.4 398.7M1423.9 290.4L1423.9 398.7" stroke-dashoffset="5.64"/><path d="M142.2 398.7L143.6 271.2M151.1 270.9L151.1 398.7M166.5 290.8L166.5 398.7M214.5 290.7L214.5 398.7M468.6 290.5L468.6 398.7M540.8 291.0L540.8 398.7M573.6 290.6L573.6 398.7M625.4 290.9L625.4 398.7M639.9 291.3L639.9 398.7M757.0 290.6L757.0 398.7M839.5 291.7L839.5 398.7M871.1 379.0L876.6 300.5M901.7 291.2L901.7 398.7M1000.8 290.4L1000.8 398.7M1044.8 291.1L1044.8 398.7M1046.2 379.0L1051.6 299.8M1053.6 290.6L1053.6 398.7M1100.5 379.0L1106.5 300.4M1213.5 290.9L1213.5 398.7M1284.3 379.0L1291.1 299.7M1293.5 290.6L1293.5 398.7M1395.8 379.0L1403.8 300.4" stroke-dashoffset="11.29"/><path d="M206.6 379.0L212.4 299.9M224.2 291.3L224.2 398.7M290.6 379.1L299.1 300.1M302.2 291.0L302.2 398.7M365.0 379.0L371.0 300.5M407.5 379.0L414.4 300.3M419.1 379.1L428.2 300.7M433.0 379.0L438.8 300.6M470.5 379.0L478.3 300.1M492.2 379.0L497.6 300.1M509.1 291.2L509.1 398.7M518.5 290.5L518.5 398.7M575.7 379.1L584.1 299.6M601.4 379.1L610.4 300.3M648.8 379.0L654.2 300.8M666.7 290.6L666.7 398.7M696.1 379.1L704.3 300.4M771.2 379.0L776.3 300.9M780.2 379.0L788.1 299.8M862.6 379.0L867.8 300.1M878.6 291.3L878.6 398.7M903.1 379.0L908.9 300.7M934.2 379.0L941.0 300.3M954.0 379.1L963.0 300.3M992.1 379.0L998.5 299.6M1037.4 379.0L1042.8 300.3M1065.8 290.7L1065.8 398.7M1067.8 379.1L1075.8 300.2M1089.9 291.1L1089.9 398.7M1127.4 379.0L1134.0 300.5M1161.8 379.1L1170.2 300.6M1244.5 379.0L1250.9 300.3M1273.8 291.3L1273.8 398.7M1295.7 379.1L1304.4 300.0M1321.2 379.0L1329.0 300.2M1369.5 379.0L1376.9 300.5" stroke-dashoffset="16.93"/><path d="M163.1 379.0L165.6 300.1M177.5 291.1L177.5 398.7M193.0 379.1L201.9 300.3M216.0 379.0L222.0 300.5M225.9 379.0L232.8 299.8M235.4 290.6L235.4 398.7M245.7 379.0L252.3 300.3M254.7 291.1L254.7 398.7M256.5 379.0L263.4 300.2M267.3 379.0L273.0 300.0M313.2 290.6L313.2 398.7M347.7 379.2L359.3 299.6M363.5 290.6L363.5 398.7M373.2 291.2L373.2 398.7M394.2 290.7L394.2 398.7M396.0 379.0L403.2 299.8M416.9 291.1L416.9 398.7M451.1 379.0L457.3 300.5M490.9 291.4L490.9 398.7M501.1 379.0L507.0 300.4M551.9 379.0L558.4 300.0M589.0 379.0L596.5 300.8M599.2 291.6L599.2 398.7M657.8 379.0L664.3 299.8M686.5 291.5L686.5 398.7M717.0 379.0L722.7 300.3M724.7 291.1L724.7 398.7M726.7 379.1L734.7 300.6M737.6 291.5L737.6 398.7M745.5 291.4L745.5 398.7M758.9 379.0L766.9 299.9M861.3 290.5L861.3 398.7M932.5 291.6L932.5 398.7M951.8 290.7L951.8 398.7M966.2 291.2L966.2 398.7M1173.2 291.5L1173.2 398.7" stroke-dashoffset="22.57"/><path d="M129.6 291.0L129.6 398.7M179.5 379.1L187.8 299.8M190.8 290.7L190.8 398.7M244.0 290.7L244.0 398.7M265.9 291.0L265.9 398.7M277.1 379.1L285.5 300.6M335.3 379.0L342.2 300.0M385.9 379.0L392.0 299.9M431.6 291.6L431.6 398.7M441.0 291.4L441.0 398.7M481.1 290.9L481.1 398.7M499.6 290.8L499.6 398.7M562.8 379.0L570.7 299.8M613.6 291.2L613.6 398.7M641.1 379.0L645.7 300.2M647.4 290.9L647.4 398.7M656.2 291.6L656.2 398.7M674.7 291.0L674.7 398.7M687.7 379.0L692.3 300.1M708.6 379.0L713.7 300.7M869.7 290.9L869.7 398.7M880.2 379.0L886.8 300.4M913.0 379.1L921.1 299.5M1055.5 379.0L1063.1 299.8M1078.8 291.0L1078.8 398.7M1099.0 290.8L1099.0 398.7M1110.0 379.0L1115.0 300.8M1116.8 291.6L1116.8 398.7M1189.3 379.1L1198.3 300.6M1201.6 291.5L1201.6 398.7M1242.8 291.3L1242.8 398.7M1253.3 291.1L1253.3 398.7M1264.9 379.0L1271.4 300.5M1319.3 291.3L1319.3 398.7M1331.9 291.1L1331.9 398.7M1342.6 291.1L1342.6 398.7M1357.6 379.0L1364.9 300.4M1406.7 291.3L1406.7 398.7M1415.9 379.0L1421.8 299.7" stroke-dashoffset="28.21"/><path d="M288.5 291.4L288.5 398.7M325.4 379.0L331.3 299.9M374.9 379.0L381.8 300.7M461.0 379.0L466.5 299.7M510.6 379.0L516.4 299.7M529.2 290.5L529.2 398.7M615.5 379.0L622.7 300.1M627.7 379.1L636.6 300.4M668.0 379.0L672.9 300.2M676.6 379.0L683.8 300.7M747.3 379.0L754.4 299.8M791.0 290.7L791.0 398.7M851.0 291.2L851.0 398.7M852.6 379.0L859.0 299.7M1024.0 290.8L1024.0 398.7M1108.7 291.2L1108.7 398.7M1138.3 379.0L1145.8 300.2M1148.5 291.1L1148.5 398.7M1150.2 379.0L1157.1 299.9M1159.7 290.7L1159.7 398.7M1175.4 379.1L1183.9 300.8M1235.8 379.0L1240.9 300.6M1254.8 379.0L1261.0 299.7M1263.3 290.5L1263.3 398.7M1381.8 379.1L1390.6 299.8M1407.9 379.0L1412.7 300.1" stroke-dashoffset="33.86"/></g>
<g stroke="#0000ff" stroke-dasharray="2.7 6.92"><path d="M125.8 34.5L125.8 398.7M129.3 271.2L129.3 293.2M129.3 398.7L141.8 398.7M166.5 271.5L166.5 293.4M179.5 271.8L179.5 293.8M198.5 271.3L198.5 293.2M206.5 271.9L206.5 293.8M219.6 271.4L219.6 293.3M229.8 271.8L229.8 293.8M239.9 271.8L239.9 293.7M250.6 271.4L250.6 293.3M258.2 270.9L258.2 292.8M268.1 271.8L268.1 293.7M283.4 271.6L283.4 293.6M294.4 271.1L294.4 293.1M303.6 270.7L303.6 292.7M318.8 271.2L318.8 293.1M328.1 271.4L328.1 293.4M339.1 270.7L339.1 292.6M345.5 271.9L345.5 293.8M358.0 270.8L358.0 292.8M374.0 271.6L374.0 293.5M389.4 271.7L389.4 293.7M394.8 271.8L394.8 293.7M409.8 271.5L409.8 293.5M418.0 270.9L418.0 292.8M434.9 271.7L434.9 293.6M444.1 271.2L444.1 293.1M451.5 271.1L451.5 293.0M459.9 271.4L459.9 293.4M473.4 271.2L473.4 293.2M482.3 271.8L482.3 293.8M494.8 271.8L494.8 293.8M504.4 271.7L504.4 293.6M511.7 271.1L511.7 293.0M524.3 271.4L524.3 293.3M534.6 271.5L534.6 293.5M541.5 271.2L541.5 293.1M555.2 271.3L555.2 293.3M562.5 271.5L562.5 293.5M580.4 270.9L580.4 292.8M589.7 271.0L589.7 293.0M601.5 271.6L601.5 293.6M620.7 271.2L620.7 293.1M626.0 271.3L626.0 293.2M641.7 270.8L641.7 292.7M650.7 271.0L650.7 292.9M659.0 271.6L659.0 293.5M668.2 270.7L668.2 292.6M679.4 271.8L679.4 293.7M686.6 271.4L686.6 293.3M701.1 271.0L701.1 292.9M708.3 271.7L708.3 293.7M718.5 271.3L718.5 293.2M730.7 271.9L730.7 293.8M737.8 271.1L737.8 293.0M751.4 270.9L751.4 292.9M760.0 271.2L760.0 293.1M772.4 270.8L772.4 292.7M781.7 271.5L781.7 293.5M792.0 271.0L792.0 293.0M808.0 271.2L808.0 293.1M816.5 271.2L816.5 293.1M825.5 271.3L825.5 293.3M834.5 270.9L834.5 292.8M852.8 270.7L852.8 292.7M863.4 271.3L863.4 293.3M872.6 271.1L872.6 293.0M880.9 271.8L880.9 293.8M891.6 271.0L891.6 293.0M902.8 271.1L902.8 293.0M914.1 270.7L914.1 292.6M926.7 270.9L926.7 292.8M936.2 271.6L936.2 293.5M946.1 271.4L946.1 293.4M954.0 271.1L954.0 293.0M974.9 271.9L974.9 293.8M983.7 271.3L983.7 293.3M994.6 271.7L994.6 293.6M1008.7 271.8L1008.7 293.7M1016.0 271.8L1016.0 293.8M1029.6 270.9L1029.6 292.9M1040.2 271.8L1040.2 293.7M1049.9 271.6L1049.9 293.5M1059.0 271.4L1059.0 293.4M1066.8 270.8L1066.8 292.8M1081.4 271.8L1081.4 293.8M1090.4 271.3L1090.4 293.3M1100.8 271.2L1100.8 293.2M1113.4 270.8L1113.4 292.7M1117.5 270.9L1117.5 292.8M1128.0 270.8L1128.0 292.8M1141.0 271.6L1141.0 293.5M1149.7 271.4L1149.7 293.3M1167.1 271.5L1167.1 293.4M1179.6 270.8L1179.6 292.7M1193.2 270.7L1193.2 292.6M1206.1 271.7L1206.1 293.7M1213.5 271.7L1213.5 293.6M1225.0 271.6L1225.0 293.6M1244.6 271.6L1244.6 293.6M1257.5 271.3L1257.5 293.2M1269.2 271.2L1269.2 293.1M1275.8 271.6L1275.8 293.5M1287.6 271.9L1287.6 293.9M1297.6 271.4L1297.6 293.3M1307.9 271.5L1307.9 293.4M1319.9 271.2L1319.9 293.1M1336.4 270.7L1336.4 292.6M1348.0 271.0L1348.0 293.0M1360.8 271.3L1360.8 293.2M1369.9 271.1L1369.9 293.1M1385.1 271.1L1385.1 293.0M1394.3 271.9L1394.3 293.8M1407.6 270.8L1407.6 292.7M1415.4 270.9L1415.4 292.9M1427.2 270.8L1427.2 292.7"/><path d="M129.3 271.2L128.7 293.2M166.5 271.5L166.0 293.4M179.5 271.8L177.3 293.7M198.5 271.3L195.3 293.0M206.5 271.9L205.1 293.8M219.6 271.4L217.3 293.2M229.8 271.8L228.0 293.7M239.9 271.8L238.2 293.7M250.6 271.4L248.8 293.3M258.2 270.9L256.9 292.8M268.1 271.8L266.4 293.7M283.4 271.6L280.8 293.5M294.4 271.1L292.5 293.0M303.6 270.7L302.0 292.6M318.8 271.2L316.2 293.0M328.1 271.4L326.5 293.3M339.1 270.7L337.3 292.6M345.5 271.9L344.4 293.8M358.0 270.8L355.9 292.7M374.0 271.6L371.2 293.4M389.4 271.7L386.8 293.6M394.8 271.8L393.9 293.7M409.8 271.5L407.3 293.4M418.0 270.9L416.6 292.8M434.9 271.7L432.0 293.5M444.1 271.2L442.5 293.1M451.5 271.1L450.2 293.1M459.9 271.4L458.5 293.4M473.4 271.2L471.1 293.1M482.3 271.8L480.8 293.8M494.8 271.8L492.7 293.7M504.4 271.7L502.7 293.6M511.7 271.1L510.5 293.0M524.3 271.4L522.2 293.2M534.6 271.5L532.8 293.4M541.5 271.2L540.3 293.1M555.2 271.3L552.8 293.2M562.5 271.5L561.2 293.5M580.4 270.9L577.4 292.7M589.7 271.0L588.1 293.0M601.5 271.6L599.5 293.5M620.7 271.2L617.4 292.9M626.0 271.3L625.1 293.2M641.7 270.8L639.0 292.6M650.7 271.0L649.1 292.9M659.0 271.6L657.6 293.5M668.2 270.7L666.6 292.6M679.4 271.8L677.4 293.7M686.6 271.4L685.3 293.3M701.1 271.0L698.6 292.8M708.3 271.7L707.0 293.7M718.5 271.3L716.7 293.2M730.7 271.9L728.6 293.8M737.8 271.1L736.6 293.0M751.4 270.9L749.1 292.8M760.0 271.2L758.5 293.1M772.4 270.8L770.3 292.7M781.7 271.5L780.1 293.4M792.0 271.0L790.2 292.9M808.0 271.2L805.3 293.0M816.5 271.2L815.0 293.1M825.5 271.3L824.0 293.3M834.5 270.9L833.0 292.8M852.8 270.7L849.7 292.5M863.4 271.3L861.6 293.2M872.6 271.1L871.0 293.0M880.9 271.8L879.5 293.8M891.6 271.0L889.8 292.9M902.8 271.1L900.9 293.0M914.1 270.7L912.2 292.6M926.7 270.9L924.6 292.7M936.2 271.6L934.5 293.5M946.1 271.4L944.4 293.3M954.0 271.1L952.7 293.0M974.9 271.9L971.3 293.6M983.7 271.3L982.2 293.3M994.6 271.7L992.8 293.6M1008.7 271.8L1006.3 293.6M1016.0 271.8L1014.7 293.8M1029.6 270.9L1027.3 292.8M1040.2 271.8L1038.4 293.7M1049.9 271.6L1048.3 293.5M1059.0 271.4L1057.5 293.3M1066.8 270.8L1065.5 292.8M1081.4 271.8L1078.9 293.7M1090.4 271.3L1088.9 293.3M1100.8 271.2L1099.0 293.1M1113.4 270.8L1111.2 292.7M1117.5 270.9L1116.8 292.8M1128.0 270.8L1126.2 292.7M1141.0 271.6L1138.7 293.4M1149.7 271.4L1148.2 293.3M1167.1 271.5L1164.1 293.2M1179.6 270.8L1177.5 292.7M1193.2 270.7L1190.8 292.6M1206.1 271.7L1203.9 293.6M1213.5 271.7L1212.2 293.6M1225.0 271.6L1223.0 293.5M1244.6 271.6L1241.3 293.3M1257.5 271.3L1255.3 293.2M1269.2 271.2L1267.2 293.1M1275.8 271.6L1274.7 293.5M1287.6 271.9L1285.6 293.8M1297.6 271.4L1295.9 293.3M1307.9 271.5L1306.1 293.4M1319.9 271.2L1317.8 293.1M1336.4 270.7L1333.6 292.5M1348.0 271.0L1346.0 292.9M1360.8 271.3L1358.6 293.1M1369.9 271.1L1368.3 293.1M1385.1 271.1L1382.5 292.9M1394.3 271.9L1392.7 293.8M1407.6 270.8L1405.3 292.6M1415.4 270.9L1414.0 292.9M1427.2 270.8L1425.2 292.7" stroke-dashoffset="9.58"/><path d="M141.8 398.7L143.2 271.2M152.7 271.7L152.7 398.7M161.1 398.7L163.6 271.2M198.5 398.7L205.1 293.8M219.6 293.3L219.6 398.7M250.6 398.7L256.9 292.8M258.2 398.7L266.4 293.7M294.4 293.1L294.4 398.7M294.4 398.7L302.0 292.6M303.6 398.7L316.2 293.0M444.1 293.1L444.1 398.7M555.2 398.7L561.2 293.5M601.5 398.7L617.4 292.9M626.0 293.2L626.0 398.7M659.0 293.5L659.0 398.7M679.4 293.7L679.4 398.7M701.1 292.9L701.1 398.7M718.5 293.2L718.5 398.7M781.7 293.5L781.7 398.7M808.0 293.1L808.0 398.7M825.5 398.7L833.0 292.8M891.6 293.0L891.6 398.7M914.1 292.6L914.1 398.7M936.2 293.5L936.2 398.7M954.0 293.0L954.0 398.7M1008.7 293.7L1008.7 398.7M1059.0 398.7L1065.5 292.8M1141.0 293.5L1141.0 398.7M1149.7 293.3L1149.7 398.7M1287.6 398.7L1295.9 293.3M1415.4 398.7L1425.2 292.7M1427.2 292.7L1427.2 398.7" stroke-dashoffset="0.00"/><path d="M143.2 271.2L143.2 398.7M149.1 398.7L152.7 271.7M161.1 271.8L161.1 398.7M179.5 398.7L195.3 293.0M268.1 293.7L268.1 398.7M268.1 398.7L280.8 293.5M303.6 292.7L303.6 398.7M318.8 398.7L326.5 293.3M339.1 398.7L344.4 293.8M394.8 293.7L394.8 398.7M434.9 398.7L442.5 293.1M451.5 293.0L451.5 398.7M459.9 293.4L459.9 398.7M504.4 398.7L510.5 293.0M534.6 398.7L540.3 293.1M580.4 292.8L580.4 398.7M580.4 398.7L588.1 293.0M781.7 398.7L790.2 292.9M834.5 398.7L849.7 292.5M852.8 398.7L861.6 293.2M863.4 398.7L871.0 293.0M872.6 293.0L872.6 398.7M880.9 293.8L880.9 398.7M946.1 293.4L946.1 398.7M994.6 293.6L994.6 398.7M1029.6 292.9L1029.6 398.7M1029.6 398.7L1038.4 293.7M1113.4 398.7L1116.8 292.8M1179.6 398.7L1190.8 292.6M1348.0 398.7L1358.6 293.1M1360.8 293.2L1360.8 398.7" stroke-dashoffset="1.37"/><path d="M152.7 398.7L156.4 271.1M239.9 293.7L239.9 398.7M339.1 292.6L339.1 398.7M444.1 398.7L450.2 293.1M494.8 293.8L494.8 398.7M504.4 293.6L504.4 398.7M555.2 293.3L555.2 398.7M601.5 293.6L601.5 398.7M620.7 398.7L625.1 293.2M659.0 398.7L666.6 292.6M708.3 398.7L716.7 293.2M772.4 292.7L772.4 398.7M808.0 398.7L815.0 293.1M816.5 398.7L824.0 293.3M926.7 398.7L934.5 293.5M954.0 398.7L971.3 293.6M974.9 293.8L974.9 398.7M1016.0 293.8L1016.0 398.7M1040.2 293.7L1040.2 398.7M1040.2 398.7L1048.3 293.5M1113.4 292.7L1113.4 398.7M1117.5 292.8L1117.5 398.7M1206.1 398.7L1212.2 293.6M1225.0 398.7L1241.3 293.3M1269.2 293.1L1269.2 398.7M1275.8 293.5L1275.8 398.7M1275.8 398.7L1285.6 293.8M1319.9 293.1L1319.9 398.7" stroke-dashoffset="2.75"/><path d="M129.3 293.2L129.3 398.7M229.8 293.8L229.8 398.7M229.8 398.7L238.2 293.7M258.2 292.8L258.2 398.7M345.5 398.7L355.9 292.7M389.4 398.7L393.9 293.7M482.3 293.8L482.3 398.7M524.3 398.7L532.8 293.4M562.5 293.5L562.5 398.7M589.7 293.0L589.7 398.7M620.7 293.1L620.7 398.7M668.2 292.6L668.2 398.7M708.3 293.7L708.3 398.7M730.7 293.8L730.7 398.7M737.8 398.7L749.1 292.8M751.4 292.9L751.4 398.7M760.0 398.7L770.3 292.7M792.0 293.0L792.0 398.7M872.6 398.7L879.5 293.8M902.8 398.7L912.2 292.6M914.1 398.7L924.6 292.7M926.7 292.8L926.7 398.7M1008.7 398.7L1014.7 293.8M1016.0 398.7L1027.3 292.8M1100.8 398.7L1111.2 292.7M1167.1 293.4L1167.1 398.7M1193.2 292.6L1193.2 398.7M1193.2 398.7L1203.9 293.6M1269.2 398.7L1274.7 293.5M1297.6 293.3L1297.6 398.7M1307.9 398.7L1317.8 293.1M1348.0 293.0L1348.0 398.7M1360.8 398.7L1368.3 293.1M1369.9 398.7L1382.5 292.9" stroke-dashoffset="4.12"/><path d="M143.2 398.7L149.1 271.5M156.4 271.1L156.4 398.7M206.5 293.8L206.5 398.7M283.4 293.6L283.4 398.7M328.1 293.4L328.1 398.7M328.1 398.7L337.3 292.6M374.0 293.5L374.0 398.7M409.8 398.7L416.6 292.8M434.9 293.6L434.9 398.7M451.5 398.7L458.5 293.4M473.4 293.2L473.4 398.7M473.4 398.7L480.8 293.8M511.7 398.7L522.2 293.2M534.6 293.5L534.6 398.7M541.5 398.7L552.8 293.2M589.7 398.7L599.5 293.5M679.4 398.7L685.3 293.3M718.5 398.7L728.6 293.8M730.7 398.7L736.6 293.0M737.8 293.0L737.8 398.7M834.5 292.8L834.5 398.7M852.8 292.7L852.8 398.7M863.4 293.3L863.4 398.7M880.9 398.7L889.8 292.9M936.2 398.7L944.4 293.3M994.6 398.7L1006.3 293.6M1049.9 293.5L1049.9 398.7M1059.0 293.4L1059.0 398.7M1066.8 398.7L1078.9 293.7M1149.7 398.7L1164.1 293.2M1244.6 293.6L1244.6 398.7M1257.5 398.7L1267.2 293.1M1287.6 293.9L1287.6 398.7M1307.9 293.4L1307.9 398.7M1385.1 398.7L1392.7 293.8M1394.3 293.8L1394.3 398.7M1415.4 292.9L1415.4 398.7" stroke-dashoffset="5.50"/><path d="M125.8 398.7L128.7 293.2M149.1 271.5L149.1 398.7M156.4 398.7L161.1 271.8M163.6 398.7L166.0 293.4M166.5 293.4L166.5 398.7M166.5 398.7L177.3 293.7M198.5 293.2L198.5 398.7M206.5 398.7L217.3 293.2M219.6 398.7L228.0 293.7M250.6 293.3L250.6 398.7M318.8 293.1L318.8 398.7M345.5 293.8L345.5 398.7M358.0 398.7L371.2 293.4M374.0 398.7L386.8 293.6M389.4 293.7L389.4 398.7M409.8 293.5L409.8 398.7M459.9 398.7L471.1 293.1M494.8 398.7L502.7 293.6M541.5 293.1L541.5 398.7M641.7 398.7L649.1 292.9M650.7 292.9L650.7 398.7M668.2 398.7L677.4 293.7M701.1 398.7L707.0 293.7M760.0 293.1L760.0 398.7M772.4 398.7L780.1 293.4M816.5 293.1L816.5 398.7M891.6 398.7L900.9 293.0M902.8 293.0L902.8 398.7M946.1 398.7L952.7 293.0M974.9 398.7L982.2 293.3M983.7 293.3L983.7 398.7M1066.8 292.8L1066.8 398.7M1081.4 293.8L1081.4 398.7M1090.4 293.3L1090.4 398.7M1090.4 398.7L1099.0 293.1M1100.8 293.2L1100.8 398.7M1117.5 398.7L1126.2 292.7M1128.0 292.8L1128.0 398.7M1128.0 398.7L1138.7 293.4M1167.1 398.7L1177.5 292.7M1179.6 292.7L1179.6 398.7M1244.6 398.7L1255.3 293.2M1257.5 293.2L1257.5 398.7M1385.1 293.0L1385.1 398.7M1394.3 398.7L1405.3 292.6" stroke-dashoffset="6.87"/><path d="M163.6 271.2L163.6 398.7M179.5 293.8L179.5 398.7M239.9 398.7L248.8 293.3M283.4 398.7L292.5 293.0M358.0 292.8L358.0 398.7M394.8 398.7L407.3 293.4M418.0 292.8L418.0 398.7M418.0 398.7L432.0 293.5M482.3 398.7L492.7 293.7M511.7 293.0L511.7 398.7M524.3 293.3L524.3 398.7M562.5 398.7L577.4 292.7M626.0 398.7L639.0 292.6M641.7 292.7L641.7 398.7M650.7 398.7L657.6 293.5M686.6 293.3L686.6 398.7M686.6 398.7L698.6 292.8M751.4 398.7L758.5 293.1M792.0 398.7L805.3 293.0M825.5 293.3L825.5 398.7M983.7 398.7L992.8 293.6M1049.9 398.7L1057.5 293.3M1081.4 398.7L1088.9 293.3M1141.0 398.7L1148.2 293.3M1206.1 293.7L1206.1 398.7M1213.5 293.6L1213.5 398.7M1213.5 398.7L1223.0 293.5M1225.0 293.6L1225.0 398.7M1297.6 398.7L1306.1 293.4M1319.9 398.7L1333.6 292.5M1336.4 292.6L1336.4 398.7M1336.4 398.7L1346.0 292.9M1369.9 293.1L1369.9 398.7M1407.6 292.7L1407.6 398.7M1407.6 398.7L1414.0 292.9" stroke-dashoffset="8.25"/></g>
<g stroke="#ff00ff" stroke-dasharray="2.7 6.92"><path d="M125.8 34.5L125.8 398.7M129.3 271.2L129.3 293.2M129.3 398.7L141.8 398.7M166.5 271.5L166.5 293.4M179.5 271.8L179.5 293.8M198.5 271.3L198.5 293.2M206.5 271.9L206.5 293.8M219.6 271.4L219.6 293.3M229.8 271.8L229.8 293.8M239.9 271.8L239.9 293.7M250.6 271.4L250.6 293.3M258.2 270.9L258.2 292.8M268.1 271.8L268.1 293.7M283.4 271.6L283.4 293.6M294.4 271.1L294.4 293.1M303.6 270.7L303.6 292.7M318.8 271.2L318.8 293.1M328.1 271.4L328.1 293.4M339.1 270.7L339.1 292.6M345.5 271.9L345.5 293.8M358.0 270.8L358.0 292.8M374.0 271.6L374.0 293.5M389.4 271.7L389.4 293.7M394.8 271.8L394.8 293.7M409.8 271.5L409.8 293.5M418.0 270.9L418.0 292.8M434.9 271.7L434.9 293.6M444.1 271.2L444.1 293.1M451.5 271.1L451.5 293.0M459.9 271.4L459.9 293.4M473.4 271.2L473.4 293.2M482.3 271.8L482.3 293.8M494.8 271.8L494.8 293.8M504.4 271.7L504.4 293.6M511.7 271.1L511.7 293.0M524.3 271.4L524.3 293.3M534.6 271.5L534.6 293.5M541.5 271.2L541.5 293.1M555.2 271.3L555.2 293.3M562.5 271.5L562.5 293.5M580.4 270.9L580.4 292.8M589.7 271.0L589.7 293.0M601.5 271.6L601.5 293.6M620.7 271.2L620.7 293.1M626.0 271.3L626.0 293.2M641.7 270.8L641.7 292.7M650.7 271.0L650.7 292.9M659.0 271.6L659.0 293.5M668.2 270.7L668.2 292.6M679.4 271.8L679.4 293.7M686.6 271.4L686.6 293.3M701.1 271.0L701.1 292.9M708.3 271.7L708.3 293.7M718.5 271.3L718.5 293.2M730.7 271.9L730.7 293.8M737.8 271.1L737.8 293.0M751.4 270.9L751.4 292.9M760.0 271.2L760.0 293.1M772.4 270.8L772.4 292.7M781.7 271.5L781.7 293.5M792.0 271.0L792.0 293.0M808.0 271.2L808.0 293.1M816.5 271.2L816.5 293.1M825.5 271.3L825.5 293.3M834.5 270.9L834.5 292.8M852.8 270.7L852.8 292.7M863.4 271.3L863.4 293.3M872.6 271.1L872.6 293.0M880.9 271.8L880.9 293.8M891.6 271.0L891.6 293.0M902.8 271.1L902.8 293.0M914.1 270.7L914.1 292.6M926.7 270.9L926.7 292.8M936.2 271.6L936.2 293.5M946.1 271.4L946.1 293.4M954.0 271.1L954.0 293.0M974.9 271.9L974.9 293.8M983.7 271.3L983.7 293.3M994.6 271.7L994.6 293.6M1008.7 271.8L1008.7 293.7M1016.0 271.8L1016.0 293.8M1029.6 270.9L1029.6 292.9M1040.2 271.8L1040.2 293.7M1049.9 271.6L1049.9 293.5M1059.0 271.4L1059.0 293.4M1066.8 270.8L1066.8 292.8M1081.4 271.8L1081.4 293.8M1090.4 271.3L1090.4 293.3M1100.8 271.2L1100.8 293.2M1113.4 270.8L1113.4 292.7M1117.5 270.9L1117.5 292.8M1128.0 270.8L1128.0 292.8M1141.0 271.6L1141.0 293.5M1149.7 271.4L1149.7 293.3M1167.1 271.5L1167.1 293.4M1179.6 270.8L1179.6 292.7M1193.2 270.7L1193.2 292.6M1206.1 271.7L1206.1 293.7M1213.5 271.7L1213.5 293.6M1225.0 271.6L1225.0 293.6M1244.6 271.6L1244.6 293.6M1257.5 271.3L1257.5 293.2M1269.2 271.2L1269.2 293.1M1275.8 271.6L1275.8 293.5M1287.6 271.9L1287.6 293.9M1297.6 271.4L1297.6 293.3M1307.9 271.5L1307.9 293.4M1319.9 271.2L1319.9 293.1M1336.4 270.7L1336.4 292.6M1348.0 271.0L1348.0 293.0M1360.8 271.3L1360.8 293.2M1369.9 271.1L1369.9 293.1M1385.1 271.1L1385.1 293.0M1394.3 271.9L1394.3 293.8M1407.6 270.8L1407.6 292.7M1415.4 270.9L1415.4 292.9M1427.2 270.8L1427.2 292.7"/><path d="M129.3 271.2L128.7 293.2M166.5 271.5L166.0 293.4M179.5 271.8L177.3 293.7M198.5 271.3L195.3 293.0M206.5 271.9L205.1 293.8M219.6 271.4L217.3 293.2M229.8 271.8L228.0 293.7M239.9 271.8L238.2 293.7M250.6 271.4L248.8 293.3M258.2 270.9L256.9 292.8M268.1 271.8L266.4 293.7M283.4 271.6L280.8 293.5M294.4 271.1L292.5 293.0M303.6 270.7L302.0 292.6M318.8 271.2L316.2 293.0M328.1 271.4L326.5 293.3M339.1 270.7L337.3 292.6M345.5 271.9L344.4 293.8M358.0 270.8L355.9 292.7M374.0 271.6L371.2 293.4M389.4 271.7L386.8 293.6M394.8 271.8L393.9 293.7M409.8 271.5L407.3 293.4M418.0 270.9L416.6 292.8M434.9 271.7L432.0 293.5M444.1 271.2L442.5 293.1M451.5 271.1L450.2 293.1M459.9 271.4L458.5 293.4M473.4 271.2L471.1 293.1M482.3 271.8L480.8 293.8M494.8 271.8L492.7 293.7M504.4 271.7L502.7 293.6M511.7 271.1L510.5 293.0M524.3 271.4L522.2 293.2M534.6 271.5L532.8 293.4M541.5 271.2L540.3 293.1M555.2 271.3L552.8 293.2M562.5 271.5L561.2 293.5M580.4 270.9L577.4 292.7M589.7 271.0L588.1 293.0M601.5 271.6L599.5 293.5M620.7 271.2L617.4 292.9M626.0 271.3L625.1 293.2M641.7 270.8L639.0 292.6M650.7 271.0L649.1 292.9M659.0 271.6L657.6 293.5M668.2 270.7L666.6 292.6M679.4 271.8L677.4 293.7M686.6 271.4L685.3 293.3M701.1 271.0L698.6 292.8M708.3 271.7L707.0 293.7M718.5 271.3L716.7 293.2M730.7 271.9L728.6 293.8M737.8 271.1L736.6 293.0M751.4 270.9L749.1 292.8M760.0 271.2L758.5 293.1M772.4 270.8L770.3 292.7M781.7 271.5L780.1 293.4M792.0 271.0L790.2 292.9M808.0 271.2L805.3 293.0M816.5 271.2L815.0 293.1M825.5 271.3L824.0 293.3M834.5 270.9L833.0 292.8M852.8 270.7L849.7 292.5M863.4 271.3L861.6 293.2M872.6 271.1L871.0 293.0M880.9 271.8L879.5 293.8M891.6 271.0L889.8 292.9M902.8 271.1L900.9 293.0M914.1 270.7L912.2 292.6M926.7 270.9L924.6 292.7M936.2 271.6L934.5 293.5M946.1 271.4L944.4 293.3M954.0 271.1L952.7 293.0M974.9 271.9L971.3 293.6M983.7 271.3L982.2 293.3M994.6 271.7L992.8 293.6M1008.7 271.8L1006.3 293.6M1016.0 271.8L1014.7 293.8M1029.6 270.9L1027.3 292.8M1040.2 271.8L1038.4 293.7M1049.9 271.6L1048.3 293.5M1059.0 271.4L1057.5 293.3M1066.8 270.8L1065.5 292.8M1081.4 271.8L1078.9 293.7M1090.4 271.3L1088.9 293.3M1100.8 271.2L1099.0 293.1M1113.4 270.8L1111.2 292.7M1117.5 270.9L1116.8 292.8M1128.0 270.8L1126.2 292.7M1141.0 271.6L1138.7 293.4M1149.7 271.4L1148.2 293.3M1167.1 271.5L1164.1 293.2M1179.6 270.8L1177.5 292.7M1193.2 270.7L1190.8 292.6M1206.1 271.7L1203.9 293.6M1213.5 271.7L1212.2 293.6M1225.0 271.6L1223.0 293.5M1244.6 271.6L1241.3 293.3M1257.5 271.3L1255.3 293.2M1269.2 271.2L1267.2 293.1M1275.8 271.6L1274.7 293.5M1287.6 271.9L1285.6 293.8M1297.6 271.4L1295.9 293.3M1307.9 271.5L1306.1 293.4M1319.9 271.2L1317.8 293.1M1336.4 270.7L1333.6 292.5M1348.0 271.0L1346.0 292.9M1360.8 271.3L1358.6 293.1M1369.9 271.1L1368.3 293.1M1385.1 271.1L1382.5 292.9M1394.3 271.9L1392.7 293.8M1407.6 270.8L1405.3 292.6M1415.4 270.9L1414.0 292.9M1427.2 270.8L1425.2 292.7" stroke-dashoffset="9.58"/><path d="M141.8 398.7L143.2 271.2M152.7 271.7L152.7 398.7M161.1 398.7L163.6 271.2M198.5 398.7L205.1 293.8M219.6 293.3L219.6 398.7M250.6 398.7L256.9 292.8M258.2 398.7L266.4 293.7M294.4 293.1L294.4 398.7M294.4 398.7L302.0 292.6M303.6 398.7L316.2 293.0M444.1 293.1L444.1 398.7M555.2 398.7L561.2 293.5M601.5 398.7L617.4 292.9M626.0 293.2L626.0 398.7M659.0 293.5L659.0 398.7M679.4 293.7L679.4 398.7M701.1 292.9L701.1 398.7M718.5 293.2L718.5 398.7M781.7 293.5L781.7 398.7M808.0 293.1L808.0 398.7M825.5 398.7L833.0 292.8M891.6 293.0L891.6 398.7M914.1 292.6L914.1 398.7M936.2 293.5L936.2 398.7M954.0 293.0L954.0 398.7M1008.7 293.7L1008.7 398.7M1059.0 398.7L1065.5 292.8M1141.0 293.5L1141.0 398.7M1149.7 293.3L1149.7 398.7M1287.6 398.7L1295.9 293.3M1415.4 398.7L1425.2 292.7M1427.2 292.7L1427.2 398.7" stroke-dashoffset="0.00"/><path d="M143.2 271.2L143.2 398.7M149.1 398.7L152.7 271.7M161.1 271.8L161.1 398.7M179.5 398.7L195.3 293.0M268.1 293.7L268.1 398.7M268.1 398.7L280.8 293.5M303.6 292.7L303.6 398.7M318.8 398.7L326.5 293.3M339.1 398.7L344.4 293.8M394.8 293.7L394.8 398.7M434.9 398.7L442.5 293.1M451.5 293.0L451.5 398.7M459.9 293.4L459.9 398.7M504.4 398.7L510.5 293.0M534.6 398.7L540.3 293.1M580.4 292.8L580.4 398.7M580.4 398.7L588.1 293.0M781.7 398.7L790.2 292.9M834.5 398.7L849.7 292.5M852.8 398.7L861.6 293.2M863.4 398.7L871.0 293.0M872.6 293.0L872.6 398.7M880.9 293.8L880.9 398.7M946.1 293.4L946.1 398.7M994.6 293.6L994.6 398.7M1029.6 292.9L1029.6 398.7M1029.6 398.7L1038.4 293.7M1113.4 398.7L1116.8 292.8M1179.6 398.7L1190.8 292.6M1348.0 398.7L1358.6 293.1M1360.8 293.2L1360.8 398.7" stroke-dashoffset="1.37"/><path d="M152.7 398.7L156.4 271.1M239.9 293.7L239.9 398.7M339.1 292.6L339.1 398.7M444.1 398.7L450.2 293.1M494.8 293.8L494.8 398.7M504.4 293.6L504.4 398.7M555.2 293.3L555.2 398.7M601.5 293.6L601.5 398.7M620.7 398.7L625.1 293.2M659.0 398.7L666.6 292.6M708.3 398.7L716.7 293.2M772.4 292.7L772.4 398.7M808.0 398.7L815.0 293.1M816.5 398.7L824.0 293.3M926.7 398.7L934.5 293.5M954.0 398.7L971.3 293.6M974.9 293.8L974.9 398.7M1016.0 293.8L1016.0 398.7M1040.2 293.7L1040.2 398.7M1040.2 398.7L1048.3 293.5M1113.4 292.7L1113.4 398.7M1117.5 292.8L1117.5 398.7M1206.1 398.7L1212.2 293.6M1225.0 398.7L1241.3 293.3M1269.2 293.1L1269.2 398.7M1275.8 293.5L1275.8 398.7M1275.8 398.7L1285.6 293.8M1319.9 293.1L1319.9 398.7" stroke-dashoffset="2.75"/><path d="M129.3 293.2L129.3 398.7M229.8 293.8L229.8 398.7M229.8 398.7L238.2 293.7M258.2 292.8L258.2 398.7M345.5 398.7L355.9 292.7M389.4 398.7L393.9 293.7M482.3 293.8L482.3 398.7M524.3 398.7L532.8 293.4M562.5 293.5L562.5 398.7M589.7 293.0L589.7 398.7M620.7 293.1L620.7 398.7M668.2 292.6L668.2 398.7M708.3 293.7L708.3 398.7M730.7 293.8L730.7 398.7M737.8 398.7L749.1 292.8M751.4 292.9L751.4 398.7M760.0 398.7L770.3 292.7M792.0 293.0L792.0 398.7M872.6 398.7L879.5 293.8M902.8 398.7L912.2 292.6M914.1 398.7L924.6 292.7M926.7 292.8L926.7 398.7M1008.7 398.7L1014.7 293.8M1016.0 398.7L1027.3 292.8M1100.8 398.7L1111.2 292.7M1167.1 293.4L1167.1 398.7M1193.2 292.6L1193.2 398.7M1193.2 398.7L1203.9 293.6M1269.2 398.7L1274.7 293.5M1297.6 293.3L1297.6 398.7M1307.9 398.7L1317.8 293.1M1348.0 293.0L1348.0 398.7M1360.8 398.7L1368.3 293.1M1369.9 398.7L1382.5 292.9" stroke-dashoffset="4.12"/><path d="M143.2 398.7L149.1 271.5M156.4 271.1L156.4 398.7M206.5 293.8L206.5 398.7M283.4 293.6L283.4 398.7M328.1 293.4L328.1 398.7M328.1 398.7L337.3 292.6M374.0 293.5L374.0 398.7M409.8 398.7L416.6 292.8M434.9 293.6L434.9 398.7M451.5 398.7L458.5 293.4M473.4 293.2L473.4 398.7M473.4 398.7L480.8 293.8M511.7 398.7L522.2 293.2M534.6 293.5L534.6 398.7M541.5 398.7L552.8 293.2M589.7 398.7L599.5 293.5M679.4 398.7L685.3 293.3M718.5 398.7L728.6 293.8M730.7 398.7L736.6 293.0M737.8 293.0L737.8 398.7M834.5 292.8L834.5 398.7M852.8 292.7L852.8 398.7M863.4 293.3L863.4 398.7M880.9 398.7L889.8 292.9M936.2 398.7L944.4 293.3M994.6 398.7L1006.3 293.6M1049.9 293.5L1049.9 398.7M1059.0 293.4L1059.0 398.7M1066.8 398.7L1078.9 293.7M1149.7 398.7L1164.1 293.2M1244.6 293.6L1244.6 398.7M1257.5 398.7L1267.2 293.1M1287.6 293.9L1287.6 398.7M1307.9 293.4L1307.9 398.7M1385.1 398.7L1392.7 293.8M1394.3 293.8L1394.3 398.7M1415.4 292.9L1415.4 398.7" stroke-dashoffset="5.50"/><path d="M125.8 398.7L128.7 293.2M149.1 271.5L149.1 398.7M156.4 398.7L161.1 271.8M163.6 398.7L166.0 293.4M166.5 293.4L166.5 398.7M166.5 398.7L177.3 293.7M198.5 293.2L198.5 398.7M206.5 398.7L217.3 293.2M219.6 398.7L228.0 293.7M250.6 293.3L250.6 398.7M318.8 293.1L318.8 398.7M345.5 293.8L345.5 398.7M358.0 398.7L371.2 293.4M374.0 398.7L386.8 293.6M389.4 293.7L389.4 398.7M409.8 293.5L409.8 398.7M459.9 398.7L471.1 293.1M494.8 398.7L502.7 293.6M541.5 293.1L541.5 398.7M641.7 398.7L649.1 292.9M650.7 292.9L650.7 398.7M668.2 398.7L677.4 293.7M701.1 398.7L707.0 293.7M760.0 293.1L760.0 398.7M772.4 398.7L780.1 293.4M816.5 293.1L816.5 398.7M891.6 398.7L900.9 293.0M902.8 293.0L902.8 398.7M946.1 398.7L952.7 293.0M974.9 398.7L982.2 293.3M983.7 293.3L983.7 398.7M1066.8 292.8L1066.8 398.7M1081.4 293.8L1081.4 398.7M1090.4 293.3L1090.4 398.7M1090.4 398.7L1099.0 293.1M1100.8 293.2L1100.8 398.7M1117.5 398.7L1126.2 292.7M1128.0 292.8L1128.0 398.7M1128.0 398.7L1138.7 293.4M1167.1 398.7L1177.5 292.7M1179.6 292.7L1179.6 398.7M1244.6 398.7L1255.3 293.2M1257.5 293.2L1257.5 398.7M1385.1 293.0L1385.1 398.7M1394.3 398.7L1405.3 292.6" stroke-dashoffset="6.87"/><path d="M163.6 271.2L163.6 398.7M179.5 293.8L179.5 398.7M239.9 398.7L248.8 293.3M283.4 398.7L292.5 293.0M358.0 292.8L358.0 398.7M394.8 398.7L407.3 293.4M418.0 292.8L418.0 398.7M418.0 398.7L432.0 293.5M482.3 398.7L492.7 293.7M511.7 293.0L511.7 398.7M524.3 293.3L524.3 398.7M562.5 398.7L577.4 292.7M626.0 398.7L639.0 292.6M641.7 292.7L641.7 398.7M650.7 398.7L657.6 293.5M686.6 293.3L686.6 398.7M686.6 398.7L698.6 292.8M751.4 398.7L758.5 293.1M792.0 398.7L805.3 293.0M825.5 293.3L825.5 398.7M983.7 398.7L992.8 293.6M1049.9 398.7L1057.5 293.3M1081.4 398.7L1088.9 293.3M1141.0 398.7L1148.2 293.3M1206.1 293.7L1206.1 398.7M1213.5 293.6L1213.5 398.7M1213.5 398.7L1223.0 293.5M1225.0 293.6L1225.0 398.7M1297.6 398.7L1306.1 293.4M1319.9 398.7L1333.6 292.5M1336.4 292.6L1336.4 398.7M1336.4 398.7L1346.0 292.9M1369.9 293.1L1369.9 398.7M1407.6 292.7L1407.6 398.7M1407.6 398.7L1414.0 292.9" stroke-dashoffset="8.25"/></g>
<g stroke="#00ffff" stroke-dasharray="2.7 6.92"><path d="M125.8 34.5L125.8 398.7M129.3 271.2L129.3 293.2M129.3 398.7L141.8 398.7M166.5 271.5L166.5 293.4M179.5 271.8L179.5 293.8M198.5 271.3L198.5 293.2M206.5 271.9L206.5 293.8M219.6 271.4L219.6 293.3M229.8 271.8L229.8 293.8M239.9 271.8L239.9 293.7M250.6 271.4L250.6 293.3M258.2 270.9L258.2 292.8M268.1 271.8L268.1 293.7M283.4 271.6L283.4 293.6M294.4 271.1L294.4 293.1M303.6 270.7L303.6 292.7M318.8 271.2L318.8 293.1M328.1 271.4L328.1 293.4M339.1 270.7L339.1 292.6M345.5 271.9L345.5 293.8M358.0 270.8L358.0 292.8M374.0 271.6L374.0 293.5M389.4 271.7L389.4 293.7M394.8 271.8L394.8 293.7M409.8 271.5L409.8 293.5M418.0 270.9L418.0 292.8M434.9 271.7L434.9 293.6M444.1 271.2L444.1 293.1M451.5 271.1L451.5 293.0M459.9 271.4L459.9 293.4M473.4 271.2L473.4 293.2M482.3 271.8L482.3 293.8M494.8 271.8L494.8 293.8M504.4 271.7L504.4 293.6M511.7 271.1L511.7 293.0M524.3 271.4L524.3 293.3M534.6 271.5L534.6 293.5M541.5 271.2L541.5 293.1M555.2 271.3L555.2 293.3M562.5 271.5L562.5 293.5M580.4 270.9L580.4 292.8M589.7 271.0L589.7 293.0M601.5 271.6L601.5 293.6M620.7 271.2L620.7 293.1M626.0 271.3L626.0 293.2M641.7 270.8L641.7 292.7M650.7 271.0L650.7 292.9M659.0 271.6L659.0 293.5M668.2 270.7L668.2 292.6M679.4 271.8L679.4 293.7M686.6 271.4L686.6 293.3M701.1 271.0L701.1 292.9M708.3 271.7L708.3 293.7M718.5 271.3L718.5 293.2M730.7 271.9L730.7 293.8M737.8 271.1L737.8 293.0M751.4 270.9L751.4 292.9M760.0 271.2L760.0 293.1M772.4 270.8L772.4 292.7M781.7 271.5L781.7 293.5M792.0 271.0L792.0 293.0M808.0 271.2L808.0 293.1M816.5 271.2L816.5 293.1M825.5 271.3L825.5 293.3M834.5 270.9L834.5 292.8M852.8 270.7L852.8 292.7M863.4 271.3L863.4 293.3M872.6 271.1L872.6 293.0M880.9 271.8L880.9 293.8M891.6 271.0L891.6 293.0M902.8 271.1L902.8 293.0M914.1 270.7L914.1 292.6M926.7 270.9L926.7 292.8M936.2 271.6L936.2 293.5M946.1 271.4L946.1 293.4M954.0 271.1L954.0 293.0M974.9 271.9L974.9 293.8M983.7 271.3L983.7 293.3M994.6 271.7L994.6 293.6M1008.7 271.8L1008.7 293.7M1016.0 271.8L1016.0 293.8M1029.6 270.9L1029.6 292.9M1040.2 271.8L1040.2 293.7M1049.9 271.6L1049.9 293.5M1059.0 271.4L1059.0 293.4M1066.8 270.8L1066.8 292.8M1081.4 271.8L1081.4 293.8M1090.4 271.3L1090.4 293.3M1100.8 271.2L1100.8 293.2M1113.4 270.8L1113.4 292.7M1117.5 270.9L1117.5 292.8M1128.0 270.8L1128.0 292.8M1141.0 271.6L1141.0 293.5M1149.7 271.4L1149.7 293.3M1167.1 271.5L1167.1 293.4M1179.6 270.8L1179.6 292.7M1193.2 270.7L1193.2 292.6M1206.1 271.7L1206.1 293.7M1213.5 271.7L1213.5 293.6M1225.0 271.6L1225.0 293.6M1244.6 271.6L1244.6 293.6M1257.5 271.3L1257.5 293.2M1269.2 271.2L1269.2 293.1M1275.8 271.6L1275.8 293.5M1287.6 271.9L1287.6 293.9M1297.6 271.4L1297.6 293.3M1307.9 271.5L1307.9 293.4M1319.9 271.2L1319.9 293.1M1336.4 270.7L1336.4 292.6M1348.0 271.0L1348.0 293.0M1360.8 271.3L1360.8 293.2M1369.9 271.1L1369.9 293.1M1385.1 271.1L1385.1 293.0M1394.3 271.9L1394.3 293.8M1407.6 270.8L1407.6 292.7M1415.4 270.9L1415.4 292.9M1427.2 270.8L1427.2 292.7"/><path d="M129.3 271.2L128.7 293.2M166.5 271.5L166.0 293.4M179.5 271.8L177.3 293.7M198.5 271.3L195.3 293.0M206.5 271.9L205.1 293.8M219.6 271.4L217.3 293.2M229.8 271.8L228.0 293.7M239.9 271.8L238.2 293.7M250.6 271.4L248.8 293.3M258.2 270.9L256.9 292.8M268.1 271.8L266.4 293.7M283.4 271.6L280.8 293.5M294.4 271.1L292.5 293.0M303.6 270.7L302.0 292.6M318.8 271.2L316.2 293.0M328.1 271.4L326.5 293.3M339.1 270.7L337.3 292.6M345.5 271.9L344.4 293.8M358.0 270.8L355.9 292.7M374.0 271.6L371.2 293.4M389.4 271.7L386.8 293.6M394.8 271.8L393.9 293.7M409.8 271.5L407.3 293.4M418.0 270.9L416.6 292.8M434.9 271.7L432.0 293.5M444.1 271.2L442.5 293.1M451.5 271.1L450.2 293.1M459.9 271.4L458.5 293.4M473.4 271.2L471.1 293.1M482.3 271.8L480.8 293.8M494.8 271.8L492.7 293.7M504.4 271.7L502.7 293.6M511.7 271.1L510.5 293.0M524.3 271.4L522.2 293.2M534.6 271.5L532.8 293.4M541.5 271.2L540.3 293.1M555.2 271.3L552.8 293.2M562.5 271.5L561.2 293.5M580.4 270.9L577.4 292.7M589.7 271.0L588.1 293.0M601.5 271.6L599.5 293.5M620.7 271.2L617.4 292.9M626.0 271.3L625.1 293.2M641.7 270.8L639.0 292.6M650.7 271.0L649.1 292.9M659.0 271.6L657.6 293.5M668.2 270.7L666.6 292.6M679.4 271.8L677.4 293.7M686.6 271.4L685.3 293.3M701.1 271.0L698.6 292.8M708.3 271.7L707.0 293.7M718.5 271.3L716.7 293.2M730.7 271.9L728.6 293.8M737.8 271.1L736.6 293.0M751.4 270.9L749.1 292.8M760.0 271.2L758.5 293.1M772.4 270.8L770.3 292.7M781.7 271.5L780.1 293.4M792.0 271.0L790.2 292.9M808.0 271.2L805.3 293.0M816.5 271.2L815.0 293.1M825.5 271.3L824.0 293.3M834.5 270.9L833.0 292.8M852.8 270.7L849.7 292.5M863.4 271.3L861.6 293.2M872.6 271.1L871.0 293.0M880.9 271.8L879.5 293.8M891.6 271.0L889.8 292.9M902.8 271.1L900.9 293.0M914.1 270.7L912.2 292.6M926.7 270.9L924.6 292.7M936.2 271.6L934.5 293.5M946.1 271.4L944.4 293.3M954.0 271.1L952.7 293.0M974.9 271.9L971.3 293.6M983.7 271.3L982.2 293.3M994.6 271.7L992.8 293.6M1008.7 271.8L1006.3 293.6M1016.0 271.8L1014.7 293.8M1029.6 270.9L1027.3 292.8M1040.2 271.8L1038.4 293.7M1049.9 271.6L1048.3 293.5M1059.0 271.4L1057.5 293.3M1066.8 270.8L1065.5 292.8M1081.4 271.8L1078.9 293.7M1090.4 271.3L1088.9 293.3M1100.8 271.2L1099.0 293.1M1113.4 270.8L1111.2 292.7M1117.5 270.9L1116.8 292.8M1128.0 270.8L1126.2 292.7M1141.0 271.6L1138.7 293.4M1149.7 271.4L1148.2 293.3M1167.1 271.5L1164.1 293.2M1179.6 270.8L1177.5 292.7M1193.2 270.7L1190.8 292.6M1206.1 271.7L1203.9 293.6M1213.5 271.7L1212.2 293.6M1225.0 271.6L1223.0 293.5M1244.6 271.6L1241.3 293.3M1257.5 271.3L1255.3 293.2M1269.2 271.2L1267.2 293.1M1275.8 271.6L1274.7 293.5M1287.6 271.9L1285.6 293.8M1297.6 271.4L1295.9 293.3M1307.9 271.5L1306.1 293.4M1319.9 271.2L1317.8 293.1M1336.4 270.7L1333.6 292.5M1348.0 271.0L1346.0 292.9M1360.8 271.3L1358.6 293.1M1369.9 271.1L1368.3 293.1M1385.1 271.1L1382.5 292.9M1394.3 271.9L1392.7 293.8M1407.6 270.8L1405.3 292.6M1415.4 270.9L1414.0 292.9M1427.2 270.8L1425.2 292.7" stroke-dashoffset="9.58"/><path d="M141.8 398.7L143.2 271.2M152.7 271.7L152.7 398.7M161.1 398.7L163.6 271.2M198.5 398.7L205.1 293.8M219.6 293.3L219.6 398.7M250.6 398.7L256.9 292.8M258.2 398.7L266.4 293.7M294.4 293.1L294.4 398.7M294.4 398.7L302.0 292.6M303.6 398.7L316.2 293.0M444.1 293.1L444.1 398.7M555.2 398.7L561.2 293.5M601.5 398.7L617.4 292.9M626.0 293.2L626.0 398.7M659.0 293.5L659.0 398.7M679.4 293.7L679.4 398.7M701.1 292.9L701.1 398.7M718.5 293.2L718.5 398.7M781.7 293.5L781.7 398.7M808.0 293.1L808.0 398.7M825.5 398.7L833.0 292.8M891.6 293.0L891.6 398.7M914.1 292.6L914.1 398.7M936.2 293.5L936.2 398.7M954.0 293.0L954.0 398.7M1008.7 293.7L1008.7 398.7M1059.0 398.7L1065.5 292.8M1141.0 293.5L1141.0 398.7M1149.7 293.3L1149.7 398.7M1287.6 398.7L1295.9 293.3M1415.4 398.7L1425.2 292.7M1427.2 292.7L1427.2 398.7" stroke-dashoffset="0.00"/><path d="M143.2 271.2L143.2 398.7M149.1 398.7L152.7 271.7M161.1 271.8L161.1 398.7M179.5 398.7L195.3 293.0M268.1 293.7L268.1 398.7M268.1 398.7L280.8 293.5M303.6 292.7L303.6 398.7M318.8 398.7L326.5 293.3M339.1 398.7L344.4 293.8M394.8 293.7L394.8 398.7M434.9 398.7L442.5 293.1M451.5 293.0L451.5 398.7M459.9 293.4L459.9 398.7M504.4 398.7L510.5 293.0M534.6 398.7L540.3 293.1M580.4 292.8L580.4 398.7M580.4 398.7L588.1 293.0M781.7 398.7L790.2 292.9M834.5 398.7L849.7 292.5M852.8 398.7L861.6 293.2M863.4 398.7L871.0 293.0M872.6 293.0L872.6 398.7M880.9 293.8L880.9 398.7M946.1 293.4L946.1 398.7M994.6 293.6L994.6 398.7M1029.6 292.9L1029.6 398.7M1029.6 398.7L1038.4 293.7M1113.4 398.7L1116.8 292.8M1179.6 398.7L1190.8 292.6M1348.0 398.7L1358.6 293.1M1360.8 293.2L1360.8 398.7" stroke-dashoffset="1.37"/><path d="M152.7 398.7L156.4 271.1M239.9 293.7L239.9 398.7M339.1 292.6L339.1 398.7M444.1 398.7L450.2 293.1M494.8 293.8L494.8 398.7M504.4 293.6L504.4 398.7M555.2 293.3L555.2 398.7M601.5 293.6L601.5 398.7M620.7 398.7L625.1 293.2M659.0 398.7L666.6 292.6M708.3 398.7L716.7 293.2M772.4 292.7L772.4 398.7M808.0 398.7L815.0 293.1M816.5 398.7L824.0 293.3M926.7 398.7L934.5 293.5M954.0 398.7L971.3 293.6M974.9 293.8L974.9 398.7M1016.0 293.8L1016.0 398.7M1040.2 293.7L1040.2 398.7M1040.2 398.7L1048.3 293.5M1113.4 292.7L1113.4 398.7M1117.5 292.8L1117.5 398.7M1206.1 398.7L1212.2 293.6M1225.0 398.7L1241.3 293.3M1269.2 293.1L1269.2 398.7M1275.8 293.5L1275.8 398.7M1275.8 398.7L1285.6 293.8M1319.9 293.1L1319.9 398.7" stroke-dashoffset="2.75"/><path d="M129.3 293.2L129.3 398.7M229.8 293.8L229.8 398.7M229.8 398.7L238.2 293.7M258.2 292.8L258.2 398.7M345.5 398.7L355.9 292.7M389.4 398.7L393.9 293.7M482.3 293.8L482.3 398.7M524.3 398.7L532.8 293.4M562.5 293.5L562.5 398.7M589.7 293.0L589.7 398.7M620.7 293.1L620.7 398.7M668.2 292.6L668.2 398.7M708.3 293.7L708.3 398.7M730.7 293.8L730.7 398.7M737.8 398.7L749.1 292.8M751.4 292.9L751.4 398.7M760.0 398.7L770.3 292.7M792.0 293.0L792.0 398.7M872.6 398.7L879.5 293.8M902.8 398.7L912.2 292.6M914.1 398.7L924.6 292.7M926.7 292.8L926.7 398.7M1008.7 398.7L1014.7 293.8M1016.0 398.7L1027.3 292.8M1100.8 398.7L1111.2 292.7M1167.1 293.4L1167.1 398.7M1193.2 292.6L1193.2 398.7M1193.2 398.7L1203.9 293.6M1269.2 398.7L1274.7 293.5M1297.6 293.3L1297.6 398.7M1307.9 398.7L1317.8 293.1M1348.0 293.0L1348.0 398.7M1360.8 398.7L1368.3 293.1M1369.9 398.7L1382.5 292.9" stroke-dashoffset="4.12"/><path d="M143.2 398.7L149.1 271.5M156.4 271.1L156.4 398.7M206.5 293.8L206.5 398.7M283.4 293.6L283.4 398.7M328.1 293.4L328.1 398.7M328.1 398.7L337.3 292.6M374.0 293.5L374.0 398.7M409.8 398.7L416.6 292.8M434.9 293.6L434.9 398.7M451.5 398.7L458.5 293.4M473.4 293.2L473.4 398.7M473.4 398.7L480.8 293.8M511.7 398.7L522.2 293.2M534.6 293.5L534.6 398.7M541.5 398.7L552.8 293.2M589.7 398.7L599.5 293.5M679.4 398.7L685.3 293.3M718.5 398.7L728.6 293.8M730.7 398.7L736.6 293.0M737.8 293.0L737.8 398.7M834.5 292.8L834.5 398.7M852.8 292.7L852.8 398.7M863.4 293.3L863.4 398.7M880.9 398.7L889.8 292.9M936.2 398.7L944.4 293.3M994.6 398.7L1006.3 293.6M1049.9 293.5L1049.9 398.7M1059.0 293.4L1059.0 398.7M1066.8 398.7L1078.9 293.7M1149.7 398.7L1164.1 293.2M1244.6 293.6L1244.6 398.7M1257.5 398.7L1267.2 293.1M1287.6 293.9L1287.6 398.7M1307.9 293.4L1307.9 398.7M1385.1 398.7L1392.7 293.8M1394.3 293.8L1394.3 398.7M1415.4 292.9L1415.4 398.7" stroke-dashoffset="5.50"/><path d="M125.8 398.7L128.7 293.2M149.1 271.5L149.1 398.7M156.4 398.7L161.1 271.8M163.6 398.7L166.0 293.4M166.5 293.4L166.5 398.7M166.5 398.7L177.3 293.7M198.5 293.2L198.5 398.7M206.5 398.7L217.3 293.2M219.6 398.7L228.0 293.7M250.6 293.3L250.6 398.7M318.8 293.1L318.8 398.7M345.5 293.8L345.5 398.7M358.0 398.7L371.2 293.4M374.0 398.7L386.8 293.6M389.4 293.7L389.4 398.7M409.8 293.5L409.8 398.7M459.9 398.7L471.1 293.1M494.8 398.7L502.7 293.6M541.5 293.1L541.5 398.7M641.7 398.7L649.1 292.9M650.7 292.9L650.7 398.7M668.2 398.7L677.4 293.7M701.1 398.7L707.0 293.7M760.0 293.1L760.0 398.7M772.4 398.7L780.1 293.4M816.5 293.1L816.5 398.7M891.6 398.7L900.9 293.0M902.8 293.0L902.8 398.7M946.1 398.7L952.7 293.0M974.9 398.7L982.2 293.3M983.7 293.3L983.7 398.7M1066.8 292.8L1066.8 398.7M1081.4 293.8L1081.4 398.7M1090.4 293.3L1090.4 398.7M1090.4 398.7L1099.0 293.1M1100.8 293.2L1100.8 398.7M1117.5 398.7L1126.2 292.7M1128.0 292.8L1128.0 398.7M1128.0 398.7L1138.7 293.4M1167.1 398.7L1177.5 292.7M1179.6 292.7L1179.6 398.7M1244.6 398.7L1255.3 293.2M1257.5 293.2L1257.5 398.7M1385.1 293.0L1385.1 398.7M1394.3 398.7L1405.3 292.6" stroke-dashoffset="6.87"/><path d="M163.6 271.2L163.6 398.7M179.5 293.8L179.5 398.7M239.9 398.7L248.8 293.3M283.4 398.7L292.5 293.0M358.0 292.8L358.0 398.7M394.8 398.7L407.3 293.4M418.0 292.8L418.0 398.7M418.0 398.7L432.0 293.5M482.3 398.7L492.7 293.7M511.7 293.0L511.7 398.7M524.3 293.3L524.3 398.7M562.5 398.7L577.4 292.7M626.0 398.7L639.0 292.6M641.7 292.7L641.7 398.7M650.7 398.7L657.6 293.5M686.6 293.3L686.6 398.7M686.6 398.7L698.6 292.8M751.4 398.7L758.5 293.1M792.0 398.7L805.3 293.0M825.5 293.3L825.5 398.7M983.7 398.7L992.8 293.6M1049.9 398.7L1057.5 293.3M1081.4 398.7L1088.9 293.3M1141.0 398.7L1148.2 293.3M1206.1 293.7L1206.1 398.7M1213.5 293.6L1213.5 398.7M1213.5 398.7L1223.0 293.5M1225.0 293.6L1225.0 398.7M1297.6 398.7L1306.1 293.4M1319.9 398.7L1333.6 292.5M1336.4 292.6L1336.4 398.7M1336.4 398.7L1346.0 292.9M1369.9 293.1L1369.9 398.7M1407.6 292.7L1407.6 398.7M1407.6 398.7L1414.0 292.9" stroke-dashoffset="8.25"/></g>
</g>
<path d="M125.8 271.2H1398.1" stroke="#000" stroke-width="4.4" fill="none"/>
<rect x="608.5" y="262" width="193.7" height="143.9" stroke="#000" stroke-width="2.3" fill="none"/>
<rect x="210.2" y="5.0" width="728.8" height="200.7" fill="#fff"/>
<g clip-path="url(#ci)" fill="none" stroke-width="4.8" stroke-linejoin="bevel">
<path d="M112.4 23.2L112.4 950.6M112.4 950.6L170.5 20.4M170.5 20.4L170.5 950.6M170.5 950.6L223.5 26.0M223.5 26.0L223.5 950.6M223.5 950.6L271.8 19.7M271.8 19.7L271.8 950.6M271.8 950.6L355.5 22.9M355.5 22.9L355.5 950.6M355.5 950.6L403.5 23.2M403.5 23.2L403.5 950.6M403.5 950.6L499.5 18.4M499.5 18.4L499.5 950.6M499.5 950.6L538.5 21.6M538.5 21.6L538.5 950.6M538.5 950.6L644.0 23.1M644.0 23.1L644.0 950.6M644.0 950.6L705.0 21.6M705.0 21.6L705.0 950.6M705.0 950.6L752.3 19.5M752.3 19.5L752.3 950.6M752.3 950.6L845.5 25.5M845.5 25.5L845.5 950.6M845.5 950.6L903.8 17.0M903.8 17.0L903.8 950.6M903.8 950.6L966.0 25.8M966.0 25.8L966.0 950.6M966.0 950.6L1074.8 19.1M1074.8 19.1L1074.8 950.6" stroke="#ff0000" stroke-dasharray="24.7 14.8"/>
<path d="M80.4 20.5L80.4 950.6M80.4 950.6L177.0 23.2M177.0 23.2L177.0 950.6M177.0 950.6L227.0 20.6M227.0 20.6L227.0 950.6M227.0 950.6L285.5 25.2M285.5 25.2L285.5 950.6M285.5 950.6L356.0 17.9M356.0 17.9L356.0 950.6M356.0 950.6L409.5 21.2M409.5 21.2L409.5 950.6M409.5 950.6L488.0 25.0M488.0 25.0L488.0 950.6M488.0 950.6L538.0 19.9M538.0 19.9L538.0 950.6M538.0 950.6L627.0 23.1M627.0 23.1L627.0 950.6M627.0 950.6L682.0 24.2M682.0 24.2L682.0 950.6M682.0 950.6L743.0 21.5M743.0 21.5L743.0 950.6M743.0 950.6L829.0 24.8M829.0 24.8L829.0 950.6M829.0 950.6L881.5 24.1M881.5 24.1L881.5 950.6M881.5 950.6L958.0 18.0M958.0 18.0L958.0 950.6M958.0 950.6L1043.9 19.6M1043.9 19.6L1043.9 950.6" stroke="#00ff00" stroke-dasharray="19.75 7.4 4.95 7.4"/>
<path d="M84.5 21.2L84.5 950.6M84.5 950.6L189.0 17.9M189.0 17.9L189.0 950.6M189.0 950.6L249.0 19.3M249.0 19.3L249.0 950.6M249.0 950.6L304.4 23.4M304.4 23.4L304.4 950.6M304.4 950.6L366.0 16.9M366.0 16.9L366.0 950.6M366.0 950.6L440.3 24.9M440.3 24.9L440.3 950.6M440.3 950.6L488.4 22.2M488.4 22.2L488.4 950.6M488.4 950.6L585.0 19.0M585.0 19.0L585.0 950.6M585.0 950.6L633.0 24.6M633.0 24.6L633.0 950.6M633.0 950.6L701.3 21.5M701.3 21.5L701.3 950.6M701.3 950.6L783.0 25.7M783.0 25.7L783.0 950.6M783.0 950.6L830.0 19.8M830.0 19.8L830.0 950.6M830.0 950.6L921.0 18.9M921.0 18.9L921.0 950.6M921.0 950.6L978.0 20.7M978.0 20.7L978.0 950.6M978.0 950.6L1061.1 17.9M1061.1 17.9L1061.1 950.6" stroke="#0000ff" stroke-dasharray="2.7 6.92"/>
<path d="M84.5 21.2L84.5 950.6M84.5 950.6L189.0 17.9M189.0 17.9L189.0 950.6M189.0 950.6L249.0 19.3M249.0 19.3L249.0 950.6M249.0 950.6L304.4 23.4M304.4 23.4L304.4 950.6M304.4 950.6L366.0 16.9M366.0 16.9L366.0 950.6M366.0 950.6L440.3 24.9M440.3 24.9L440.3 950.6M440.3 950.6L488.4 22.2M488.4 22.2L488.4 950.6M488.4 950.6L585.0 19.0M585.0 19.0L585.0 950.6M585.0 950.6L633.0 24.6M633.0 24.6L633.0 950.6M633.0 950.6L701.3 21.5M701.3 21.5L701.3 950.6M701.3 950.6L783.0 25.7M783.0 25.7L783.0 950.6M783.0 950.6L830.0 19.8M830.0 19.8L830.0 950.6M830.0 950.6L921.0 18.9M921.0 18.9L921.0 950.6M921.0 950.6L978.0 20.7M978.0 20.7L978.0 950.6M978.0 950.6L1061.1 17.9M1061.1 17.9L1061.1 950.6" stroke="#ff00ff" stroke-dasharray="2.7 6.92"/>
<path d="M84.5 21.2L84.5 950.6M84.5 950.6L189.0 17.9M189.0 17.9L189.0 950.6M189.0 950.6L249.0 19.3M249.0 19.3L249.0 950.6M249.0 950.6L304.4 23.4M304.4 23.4L304.4 950.6M304.4 950.6L366.0 16.9M366.0 16.9L366.0 950.6M366.0 950.6L440.3 24.9M440.3 24.9L440.3 950.6M440.3 950.6L488.4 22.2M488.4 22.2L488.4 950.6M488.4 950.6L585.0 19.0M585.0 19.0L585.0 950.6M585.0 950.6L633.0 24.6M633.0 24.6L633.0 950.6M633.0 950.6L701.3 21.5M701.3 21.5L701.3 950.6M701.3 950.6L783.0 25.7M783.0 25.7L783.0 950.6M783.0 950.6L830.0 19.8M830.0 19.8L830.0 950.6M830.0 950.6L921.0 18.9M921.0 18.9L921.0 950.6M921.0 950.6L978.0 20.7M978.0 20.7L978.0 950.6M978.0 950.6L1061.1 17.9M1061.1 17.9L1061.1 950.6" stroke="#00ffff" stroke-dasharray="2.7 6.92"/>
</g>
<rect x="210.2" y="5.0" width="728.8" height="200.7" stroke="#262626" stroke-width="1.5" fill="none"/>
<path d="M281.7 205.7 v-7.5M281.7 5.0 v7.5M423.1 205.7 v-7.5M423.1 5.0 v7.5M564.5 205.7 v-7.5M564.5 5.0 v7.5M705.8 205.7 v-7.5M705.8 5.0 v7.5M847.2 205.7 v-7.5M847.2 5.0 v7.5M210.2 153.8 h7.5M939.0 153.8 h-7.5M210.2 21.0 h7.5M939.0 21.0 h-7.5" stroke="#262626" stroke-width="1.5" fill="none"/>
<path d="M211.2 20.9H938.0" stroke="#000" stroke-width="4.4" stroke-linecap="round" fill="none"/>
<g font-family="'Liberation Serif', serif" font-size="43" fill="#000">
<text x="125.8" y="455.3" text-anchor="middle">0</text>
<text x="337.7" y="455.3" text-anchor="middle">5</text>
<text x="549.6" y="455.3" text-anchor="middle">10</text>
<text x="761.5" y="455.3" text-anchor="middle">15</text>
<text x="973.5" y="455.3" text-anchor="middle">20</text>
<text x="1185.4" y="455.3" text-anchor="middle">25</text>
<text x="1397.3" y="455.3" text-anchor="middle">30</text>
<text x="109.5" y="414.2" text-anchor="end">0</text>
<text x="109.5" y="232.1" text-anchor="end">0.5</text>
<text x="108.0" y="50.0" text-anchor="end">1</text>
<text x="281.7" y="262" text-anchor="middle">12.5</text>
<text x="423.1" y="262" text-anchor="middle">13</text>
<text x="564.5" y="262" text-anchor="middle">13.5</text>
<text x="705.8" y="262" text-anchor="middle">14</text>
<text x="847.2" y="262" text-anchor="middle">14.5</text>
<text x="192.5" y="169.3" text-anchor="end">0.3</text>
<text x="192.5" y="36.5" text-anchor="end">0.35</text>
<text x="767" y="508.5" text-anchor="middle" font-weight="bold" font-size="42">Time (s)</text>
<text transform="translate(33 216.5) rotate(-90)" text-anchor="middle" font-weight="bold" font-size="42">errors</text>
</g>
<g fill="none" stroke-width="5">
<path d="M955.8 80.4H1018.7" stroke="#ff0000" stroke-dasharray="24.7 14.8"/>
<path d="M955.8 131.2H1018.7" stroke="#00ff00" stroke-dasharray="19.75 7.4 4.95 7.4"/>
<path d="M955.8 182.0H1018.7" stroke="#0000ff" stroke-dasharray="2.7 7.18" stroke-dashoffset="0"/>
<path d="M1134.3 80.4H1197.0" stroke="#ff00ff" stroke-dasharray="2.7 7.18"/>
<path d="M1134.3 131.2H1197.0" stroke="#00ffff" stroke-dasharray="2.7 7.18"/>
<path d="M1134.3 182.0H1197.0" stroke="#000" stroke-width="5.5"/>
</g>
<g font-family="'Liberation Serif', serif" fill="#000">
<text x="1029.3" y="90.7" font-size="46.5" letter-spacing="-1.1">||</text><text transform="translate(1047.0 91.0) scale(1.24 1)" font-size="44" font-weight="bold">e</text><text transform="translate(1070.0 96.7) scale(1.15 1)" font-size="30" font-weight="bold">1</text><text x="1090.3" y="90.7" font-size="46.5" letter-spacing="-1.1">||</text>
<text x="1029.3" y="141.5" font-size="46.5" letter-spacing="-1.1">||</text><text transform="translate(1047.0 141.8) scale(1.24 1)" font-size="44" font-weight="bold">e</text><text transform="translate(1070.0 147.5) scale(1.15 1)" font-size="30" font-weight="bold">2</text><text x="1090.3" y="141.5" font-size="46.5" letter-spacing="-1.1">||</text>
<text x="1029.3" y="192.3" font-size="46.5" letter-spacing="-1.1">||</text><text transform="translate(1047.0 192.6) scale(1.24 1)" font-size="44" font-weight="bold">e</text><text transform="translate(1070.0 198.3) scale(1.15 1)" font-size="30" font-weight="bold">3</text><text x="1090.3" y="192.3" font-size="46.5" letter-spacing="-1.1">||</text>
<text x="1207.6" y="90.7" font-size="46.5" letter-spacing="-1.1">||</text><text transform="translate(1225.3 91.0) scale(1.24 1)" font-size="44" font-weight="bold">e</text><text transform="translate(1248.3 96.7) scale(1.15 1)" font-size="30" font-weight="bold">4</text><text x="1268.6" y="90.7" font-size="46.5" letter-spacing="-1.1">||</text>
<text x="1207.6" y="141.5" font-size="46.5" letter-spacing="-1.1">||</text><text transform="translate(1225.3 141.8) scale(1.24 1)" font-size="44" font-weight="bold">e</text><text transform="translate(1248.3 147.5) scale(1.15 1)" font-size="30" font-weight="bold">5</text><text x="1268.6" y="141.5" font-size="46.5" letter-spacing="-1.1">||</text>
<text transform="translate(1206 192.2) scale(1.105 1)" font-size="41">threshold</text>
</g>
</svg>
</body>
</html>
